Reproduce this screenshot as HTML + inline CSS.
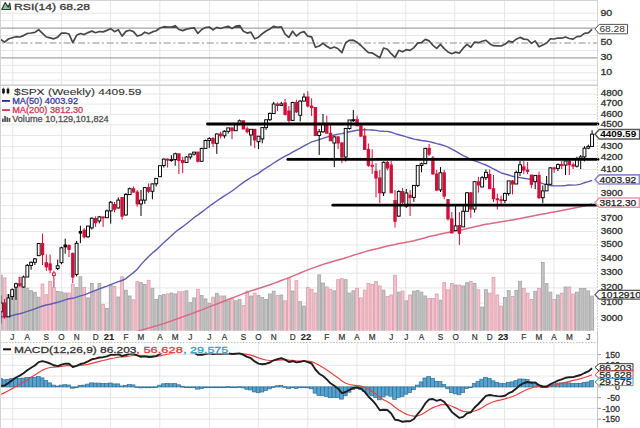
<!DOCTYPE html><html><head><meta charset="utf-8"><style>html,body{margin:0;padding:0;background:#fff;width:640px;height:428px;overflow:hidden}</style></head><body><svg width="640" height="428" viewBox="0 0 640 428" style="display:block;font-family:'Liberation Sans', sans-serif">
<defs><clipPath id="cr"><rect x="1" y="1" width="596.5" height="84"/></clipPath><clipPath id="cm"><rect x="1" y="85.5" width="596.5" height="245.3"/></clipPath><clipPath id="cd"><rect x="1" y="343" width="596.5" height="85"/></clipPath></defs>
<rect width="640" height="428" fill="#fff"/>
<line x1="1" y1="13.2" x2="597.5" y2="13.2" stroke="#e6e6e6" stroke-width="1"/>
<line x1="1" y1="20.6" x2="597.5" y2="20.6" stroke="#e6e6e6" stroke-width="1"/>
<line x1="1" y1="35.5" x2="597.5" y2="35.5" stroke="#e6e6e6" stroke-width="1"/>
<line x1="1" y1="50.5" x2="597.5" y2="50.5" stroke="#e6e6e6" stroke-width="1"/>
<line x1="1" y1="65.3" x2="597.5" y2="65.3" stroke="#e6e6e6" stroke-width="1"/>
<line x1="1" y1="72.8" x2="597.5" y2="72.8" stroke="#e6e6e6" stroke-width="1"/>
<line x1="1" y1="80.2" x2="597.5" y2="80.2" stroke="#e6e6e6" stroke-width="1"/>
<line x1="12.8" y1="1" x2="12.8" y2="85" stroke="#e6e6e6" stroke-width="1"/>
<line x1="61.4" y1="1" x2="61.4" y2="85" stroke="#e6e6e6" stroke-width="1"/>
<line x1="110.6" y1="1" x2="110.6" y2="85" stroke="#e6e6e6" stroke-width="1"/>
<line x1="159.8" y1="1" x2="159.8" y2="85" stroke="#e6e6e6" stroke-width="1"/>
<line x1="209.4" y1="1" x2="209.4" y2="85" stroke="#e6e6e6" stroke-width="1"/>
<line x1="258.6" y1="1" x2="258.6" y2="85" stroke="#e6e6e6" stroke-width="1"/>
<line x1="307.8" y1="1" x2="307.8" y2="85" stroke="#e6e6e6" stroke-width="1"/>
<line x1="357.0" y1="1" x2="357.0" y2="85" stroke="#e6e6e6" stroke-width="1"/>
<line x1="405.8" y1="1" x2="405.8" y2="85" stroke="#e6e6e6" stroke-width="1"/>
<line x1="454.8" y1="1" x2="454.8" y2="85" stroke="#e6e6e6" stroke-width="1"/>
<line x1="504.6" y1="1" x2="504.6" y2="85" stroke="#e6e6e6" stroke-width="1"/>
<line x1="553.9" y1="1" x2="553.9" y2="85" stroke="#e6e6e6" stroke-width="1"/>
<line x1="1" y1="28.1" x2="597.5" y2="28.1" stroke="#a4a4a4" stroke-width="1.4"/>
<line x1="1" y1="57.9" x2="597.5" y2="57.9" stroke="#a4a4a4" stroke-width="1.4"/>
<line x1="1" y1="43.0" x2="597.5" y2="43.0" stroke="#b4b4b4" stroke-width="1.3" stroke-dasharray="7,2.6,2,2.7" stroke-dashoffset="8.8"/>
<clipPath id="c70"><rect x="1" y="1" width="596.5" height="27.10"/></clipPath><clipPath id="c30"><rect x="1" y="57.90" width="596.5" height="27.10"/></clipPath>
<polygon clip-path="url(#c70)" points="0.8,28.10 0.8,39.5 4.6,42.1 8.4,39.0 12.2,37.7 16.0,36.7 19.8,37.0 23.5,35.6 27.3,33.5 31.1,33.0 34.9,32.4 38.7,29.7 42.5,33.4 46.3,37.0 50.1,37.9 53.9,38.8 57.7,37.1 61.5,33.2 65.2,33.0 69.0,34.0 72.8,42.6 76.6,35.3 80.4,33.5 84.2,34.6 88.0,32.6 91.8,31.1 95.6,32.7 99.3,31.5 103.1,31.9 106.9,30.4 110.7,28.7 114.5,31.7 118.3,29.7 122.1,36.1 125.9,31.4 129.7,30.2 133.5,31.6 137.2,36.0 141.0,35.1 144.8,32.2 148.6,33.7 152.4,31.9 156.2,30.7 160.0,28.0 163.8,26.7 167.6,27.0 171.4,27.0 175.2,25.7 178.9,29.5 182.7,30.6 186.5,29.1 190.3,28.3 194.1,27.8 197.9,33.4 201.7,29.5 205.5,27.5 209.3,27.0 213.0,29.9 216.8,27.4 220.6,28.5 224.4,27.3 228.2,26.3 232.0,28.4 235.8,26.2 239.6,25.5 243.4,31.3 247.2,33.1 250.9,32.2 254.7,38.8 258.5,37.2 262.3,33.7 266.1,31.0 269.9,29.0 273.7,26.3 277.5,27.3 281.3,26.9 285.1,34.1 288.9,37.4 292.6,31.2 296.4,36.1 300.2,32.8 304.0,31.6 307.8,36.2 311.6,36.9 315.4,47.3 319.2,46.0 323.0,43.4 326.8,46.2 330.5,48.5 334.3,47.0 338.1,48.8 341.9,52.6 345.7,42.7 349.5,40.3 353.3,40.2 357.1,42.3 360.9,45.5 364.7,49.1 368.4,52.6 372.2,52.9 376.0,55.2 379.8,57.7 383.6,48.0 387.4,49.2 391.2,53.7 395.0,57.5 398.8,50.3 402.6,51.8 406.3,49.7 410.1,50.4 413.9,47.6 417.7,43.1 421.5,42.7 425.3,39.4 429.1,40.9 432.9,45.3 436.7,48.3 440.5,44.4 444.2,48.6 448.0,51.9 451.8,53.7 455.6,52.1 459.4,53.1 463.2,48.2 467.0,44.4 470.8,47.2 474.6,42.1 478.4,42.7 482.1,41.3 485.9,40.3 489.7,43.7 493.5,45.7 497.3,45.8 501.1,46.0 504.9,44.3 508.7,41.2 512.5,42.1 516.2,39.2 520.0,37.4 523.8,39.1 527.6,39.5 531.4,43.4 535.2,40.9 539.0,46.7 542.8,44.9 546.6,43.0 550.4,38.9 554.1,39.0 557.9,38.0 561.7,38.2 565.5,37.0 569.3,38.5 573.1,39.1 576.9,36.6 580.7,36.1 584.5,33.4 588.3,32.8 592.1,29.4 592.1,28.10" fill="#505050"/>
<polygon clip-path="url(#c30)" points="0.8,57.90 0.8,39.5 4.6,42.1 8.4,39.0 12.2,37.7 16.0,36.7 19.8,37.0 23.5,35.6 27.3,33.5 31.1,33.0 34.9,32.4 38.7,29.7 42.5,33.4 46.3,37.0 50.1,37.9 53.9,38.8 57.7,37.1 61.5,33.2 65.2,33.0 69.0,34.0 72.8,42.6 76.6,35.3 80.4,33.5 84.2,34.6 88.0,32.6 91.8,31.1 95.6,32.7 99.3,31.5 103.1,31.9 106.9,30.4 110.7,28.7 114.5,31.7 118.3,29.7 122.1,36.1 125.9,31.4 129.7,30.2 133.5,31.6 137.2,36.0 141.0,35.1 144.8,32.2 148.6,33.7 152.4,31.9 156.2,30.7 160.0,28.0 163.8,26.7 167.6,27.0 171.4,27.0 175.2,25.7 178.9,29.5 182.7,30.6 186.5,29.1 190.3,28.3 194.1,27.8 197.9,33.4 201.7,29.5 205.5,27.5 209.3,27.0 213.0,29.9 216.8,27.4 220.6,28.5 224.4,27.3 228.2,26.3 232.0,28.4 235.8,26.2 239.6,25.5 243.4,31.3 247.2,33.1 250.9,32.2 254.7,38.8 258.5,37.2 262.3,33.7 266.1,31.0 269.9,29.0 273.7,26.3 277.5,27.3 281.3,26.9 285.1,34.1 288.9,37.4 292.6,31.2 296.4,36.1 300.2,32.8 304.0,31.6 307.8,36.2 311.6,36.9 315.4,47.3 319.2,46.0 323.0,43.4 326.8,46.2 330.5,48.5 334.3,47.0 338.1,48.8 341.9,52.6 345.7,42.7 349.5,40.3 353.3,40.2 357.1,42.3 360.9,45.5 364.7,49.1 368.4,52.6 372.2,52.9 376.0,55.2 379.8,57.7 383.6,48.0 387.4,49.2 391.2,53.7 395.0,57.5 398.8,50.3 402.6,51.8 406.3,49.7 410.1,50.4 413.9,47.6 417.7,43.1 421.5,42.7 425.3,39.4 429.1,40.9 432.9,45.3 436.7,48.3 440.5,44.4 444.2,48.6 448.0,51.9 451.8,53.7 455.6,52.1 459.4,53.1 463.2,48.2 467.0,44.4 470.8,47.2 474.6,42.1 478.4,42.7 482.1,41.3 485.9,40.3 489.7,43.7 493.5,45.7 497.3,45.8 501.1,46.0 504.9,44.3 508.7,41.2 512.5,42.1 516.2,39.2 520.0,37.4 523.8,39.1 527.6,39.5 531.4,43.4 535.2,40.9 539.0,46.7 542.8,44.9 546.6,43.0 550.4,38.9 554.1,39.0 557.9,38.0 561.7,38.2 565.5,37.0 569.3,38.5 573.1,39.1 576.9,36.6 580.7,36.1 584.5,33.4 588.3,32.8 592.1,29.4 592.1,57.90" fill="#505050"/>
<polyline clip-path="url(#cr)" points="0.8,39.5 4.6,42.1 8.4,39.0 12.2,37.7 16.0,36.7 19.8,37.0 23.5,35.6 27.3,33.5 31.1,33.0 34.9,32.4 38.7,29.7 42.5,33.4 46.3,37.0 50.1,37.9 53.9,38.8 57.7,37.1 61.5,33.2 65.2,33.0 69.0,34.0 72.8,42.6 76.6,35.3 80.4,33.5 84.2,34.6 88.0,32.6 91.8,31.1 95.6,32.7 99.3,31.5 103.1,31.9 106.9,30.4 110.7,28.7 114.5,31.7 118.3,29.7 122.1,36.1 125.9,31.4 129.7,30.2 133.5,31.6 137.2,36.0 141.0,35.1 144.8,32.2 148.6,33.7 152.4,31.9 156.2,30.7 160.0,28.0 163.8,26.7 167.6,27.0 171.4,27.0 175.2,25.7 178.9,29.5 182.7,30.6 186.5,29.1 190.3,28.3 194.1,27.8 197.9,33.4 201.7,29.5 205.5,27.5 209.3,27.0 213.0,29.9 216.8,27.4 220.6,28.5 224.4,27.3 228.2,26.3 232.0,28.4 235.8,26.2 239.6,25.5 243.4,31.3 247.2,33.1 250.9,32.2 254.7,38.8 258.5,37.2 262.3,33.7 266.1,31.0 269.9,29.0 273.7,26.3 277.5,27.3 281.3,26.9 285.1,34.1 288.9,37.4 292.6,31.2 296.4,36.1 300.2,32.8 304.0,31.6 307.8,36.2 311.6,36.9 315.4,47.3 319.2,46.0 323.0,43.4 326.8,46.2 330.5,48.5 334.3,47.0 338.1,48.8 341.9,52.6 345.7,42.7 349.5,40.3 353.3,40.2 357.1,42.3 360.9,45.5 364.7,49.1 368.4,52.6 372.2,52.9 376.0,55.2 379.8,57.7 383.6,48.0 387.4,49.2 391.2,53.7 395.0,57.5 398.8,50.3 402.6,51.8 406.3,49.7 410.1,50.4 413.9,47.6 417.7,43.1 421.5,42.7 425.3,39.4 429.1,40.9 432.9,45.3 436.7,48.3 440.5,44.4 444.2,48.6 448.0,51.9 451.8,53.7 455.6,52.1 459.4,53.1 463.2,48.2 467.0,44.4 470.8,47.2 474.6,42.1 478.4,42.7 482.1,41.3 485.9,40.3 489.7,43.7 493.5,45.7 497.3,45.8 501.1,46.0 504.9,44.3 508.7,41.2 512.5,42.1 516.2,39.2 520.0,37.4 523.8,39.1 527.6,39.5 531.4,43.4 535.2,40.9 539.0,46.7 542.8,44.9 546.6,43.0 550.4,38.9 554.1,39.0 557.9,38.0 561.7,38.2 565.5,37.0 569.3,38.5 573.1,39.1 576.9,36.6 580.7,36.1 584.5,33.4 588.3,32.8 592.1,29.4" fill="none" stroke="#484848" stroke-width="1.7" stroke-linejoin="round"/>
<rect x="0.5" y="0.5" width="597.0" height="84.7" fill="none" stroke="#d4d4d4" stroke-width="1"/>
<rect x="1" y="1" width="91" height="10.5" fill="#fff"/>
<path d="M1.8,9.5 L5.2,2.6 L8.2,7.2 L9.8,3.2 L10.6,9.5 Z" fill="#8fbf98" stroke="#2a3f2e" stroke-width="1.2" stroke-linejoin="round"/>
<text x="14" y="9.6" font-size="8.8" fill="#3a3a3a" text-anchor="start" font-weight="normal" textLength="76" lengthAdjust="spacingAndGlyphs" stroke="#3a3a3a" stroke-width="0.3">RSI(14) 68.28</text>
<text x="600.4" y="16.3" font-size="8.6" fill="#333" text-anchor="start" font-weight="normal" textLength="11.8" lengthAdjust="spacingAndGlyphs" stroke="#333" stroke-width="0.3">90</text>
<text x="600.4" y="45.4" font-size="8.6" fill="#333" text-anchor="start" font-weight="normal" textLength="11.8" lengthAdjust="spacingAndGlyphs" stroke="#333" stroke-width="0.3">50</text>
<text x="600.4" y="60.0" font-size="8.6" fill="#333" text-anchor="start" font-weight="normal" textLength="11.8" lengthAdjust="spacingAndGlyphs" stroke="#333" stroke-width="0.3">30</text>
<text x="600.4" y="74.5" font-size="8.6" fill="#333" text-anchor="start" font-weight="normal" textLength="11.8" lengthAdjust="spacingAndGlyphs" stroke="#333" stroke-width="0.3">10</text>
<path d="M595.0,29.10 L599.2,24.4 L627.5,24.4 L627.5,33.8 L599.2,33.8 Z" fill="#fff" stroke="#555" stroke-width="1.0"/><text x="599.4" y="32.3" font-size="8.6" fill="#333" text-anchor="start" font-weight="normal" textLength="25.4" lengthAdjust="spacingAndGlyphs">68.28</text>
<line x1="1" y1="318.7" x2="597.5" y2="318.7" stroke="#e6e6e6" stroke-width="1"/>
<line x1="1" y1="303.0" x2="597.5" y2="303.0" stroke="#e6e6e6" stroke-width="1"/>
<line x1="1" y1="287.9" x2="597.5" y2="287.9" stroke="#e6e6e6" stroke-width="1"/>
<line x1="1" y1="273.2" x2="597.5" y2="273.2" stroke="#e6e6e6" stroke-width="1"/>
<line x1="1" y1="258.9" x2="597.5" y2="258.9" stroke="#e6e6e6" stroke-width="1"/>
<line x1="1" y1="245.0" x2="597.5" y2="245.0" stroke="#e6e6e6" stroke-width="1"/>
<line x1="1" y1="231.6" x2="597.5" y2="231.6" stroke="#e6e6e6" stroke-width="1"/>
<line x1="1" y1="218.5" x2="597.5" y2="218.5" stroke="#e6e6e6" stroke-width="1"/>
<line x1="1" y1="205.7" x2="597.5" y2="205.7" stroke="#e6e6e6" stroke-width="1"/>
<line x1="1" y1="193.3" x2="597.5" y2="193.3" stroke="#e6e6e6" stroke-width="1"/>
<line x1="1" y1="181.2" x2="597.5" y2="181.2" stroke="#e6e6e6" stroke-width="1"/>
<line x1="1" y1="169.4" x2="597.5" y2="169.4" stroke="#e6e6e6" stroke-width="1"/>
<line x1="1" y1="157.9" x2="597.5" y2="157.9" stroke="#e6e6e6" stroke-width="1"/>
<line x1="1" y1="146.6" x2="597.5" y2="146.6" stroke="#e6e6e6" stroke-width="1"/>
<line x1="1" y1="135.6" x2="597.5" y2="135.6" stroke="#e6e6e6" stroke-width="1"/>
<line x1="1" y1="124.9" x2="597.5" y2="124.9" stroke="#e6e6e6" stroke-width="1"/>
<line x1="1" y1="114.4" x2="597.5" y2="114.4" stroke="#e6e6e6" stroke-width="1"/>
<line x1="1" y1="104.1" x2="597.5" y2="104.1" stroke="#e6e6e6" stroke-width="1"/>
<line x1="1" y1="94.1" x2="597.5" y2="94.1" stroke="#e6e6e6" stroke-width="1"/>
<line x1="12.8" y1="85.2" x2="12.8" y2="330.8" stroke="#e6e6e6" stroke-width="1"/>
<line x1="61.4" y1="85.2" x2="61.4" y2="330.8" stroke="#e6e6e6" stroke-width="1"/>
<line x1="110.6" y1="85.2" x2="110.6" y2="330.8" stroke="#e6e6e6" stroke-width="1"/>
<line x1="159.8" y1="85.2" x2="159.8" y2="330.8" stroke="#e6e6e6" stroke-width="1"/>
<line x1="209.4" y1="85.2" x2="209.4" y2="330.8" stroke="#e6e6e6" stroke-width="1"/>
<line x1="258.6" y1="85.2" x2="258.6" y2="330.8" stroke="#e6e6e6" stroke-width="1"/>
<line x1="307.8" y1="85.2" x2="307.8" y2="330.8" stroke="#e6e6e6" stroke-width="1"/>
<line x1="357.0" y1="85.2" x2="357.0" y2="330.8" stroke="#e6e6e6" stroke-width="1"/>
<line x1="405.8" y1="85.2" x2="405.8" y2="330.8" stroke="#e6e6e6" stroke-width="1"/>
<line x1="454.8" y1="85.2" x2="454.8" y2="330.8" stroke="#e6e6e6" stroke-width="1"/>
<line x1="504.6" y1="85.2" x2="504.6" y2="330.8" stroke="#e6e6e6" stroke-width="1"/>
<line x1="553.9" y1="85.2" x2="553.9" y2="330.8" stroke="#e6e6e6" stroke-width="1"/>
<g clip-path="url(#cm)"><rect x="-0.6" y="275.1" width="2.79" height="56.5" fill="#c4c4c4" stroke="#a8a8a8" stroke-width="0.9"/><rect x="3.2" y="277.9" width="2.79" height="53.7" fill="#f2c4ce" stroke="#e0a0b0" stroke-width="0.9"/><rect x="7.0" y="294.7" width="2.79" height="36.9" fill="#c4c4c4" stroke="#a8a8a8" stroke-width="0.9"/><rect x="10.8" y="293.0" width="2.79" height="38.6" fill="#c4c4c4" stroke="#a8a8a8" stroke-width="0.9"/><rect x="14.6" y="288.2" width="2.79" height="43.4" fill="#c4c4c4" stroke="#a8a8a8" stroke-width="0.9"/><rect x="18.4" y="277.5" width="2.79" height="54.1" fill="#f2c4ce" stroke="#e0a0b0" stroke-width="0.9"/><rect x="22.2" y="287.4" width="2.79" height="44.2" fill="#c4c4c4" stroke="#a8a8a8" stroke-width="0.9"/><rect x="25.9" y="288.2" width="2.79" height="43.4" fill="#c4c4c4" stroke="#a8a8a8" stroke-width="0.9"/><rect x="29.7" y="290.6" width="2.79" height="41.0" fill="#c4c4c4" stroke="#a8a8a8" stroke-width="0.9"/><rect x="33.5" y="292.3" width="2.79" height="39.3" fill="#c4c4c4" stroke="#a8a8a8" stroke-width="0.9"/><rect x="37.3" y="297.2" width="2.79" height="34.4" fill="#c4c4c4" stroke="#a8a8a8" stroke-width="0.9"/><rect x="41.1" y="284.1" width="2.79" height="47.5" fill="#f2c4ce" stroke="#e0a0b0" stroke-width="0.9"/><rect x="44.9" y="294.7" width="2.79" height="36.9" fill="#f2c4ce" stroke="#e0a0b0" stroke-width="0.9"/><rect x="48.7" y="281.3" width="2.79" height="50.3" fill="#f2c4ce" stroke="#e0a0b0" stroke-width="0.9"/><rect x="52.5" y="287.4" width="2.79" height="44.2" fill="#f2c4ce" stroke="#e0a0b0" stroke-width="0.9"/><rect x="56.3" y="291.5" width="2.79" height="40.1" fill="#c4c4c4" stroke="#a8a8a8" stroke-width="0.9"/><rect x="60.1" y="292.0" width="2.79" height="39.6" fill="#c4c4c4" stroke="#a8a8a8" stroke-width="0.9"/><rect x="63.8" y="293.1" width="2.79" height="38.5" fill="#c4c4c4" stroke="#a8a8a8" stroke-width="0.9"/><rect x="67.6" y="293.0" width="2.79" height="38.6" fill="#f2c4ce" stroke="#e0a0b0" stroke-width="0.9"/><rect x="71.4" y="284.1" width="2.79" height="47.5" fill="#f2c4ce" stroke="#e0a0b0" stroke-width="0.9"/><rect x="75.2" y="287.4" width="2.79" height="44.2" fill="#c4c4c4" stroke="#a8a8a8" stroke-width="0.9"/><rect x="79.0" y="276.8" width="2.79" height="54.8" fill="#c4c4c4" stroke="#a8a8a8" stroke-width="0.9"/><rect x="82.8" y="287.4" width="2.79" height="44.2" fill="#f2c4ce" stroke="#e0a0b0" stroke-width="0.9"/><rect x="86.6" y="297.9" width="2.79" height="33.7" fill="#c4c4c4" stroke="#a8a8a8" stroke-width="0.9"/><rect x="90.4" y="283.5" width="2.79" height="48.1" fill="#c4c4c4" stroke="#a8a8a8" stroke-width="0.9"/><rect x="94.2" y="290.2" width="2.79" height="41.4" fill="#f2c4ce" stroke="#e0a0b0" stroke-width="0.9"/><rect x="98.0" y="283.5" width="2.79" height="48.1" fill="#c4c4c4" stroke="#a8a8a8" stroke-width="0.9"/><rect x="101.7" y="304.6" width="2.79" height="27.0" fill="#f2c4ce" stroke="#e0a0b0" stroke-width="0.9"/><rect x="105.5" y="308.4" width="2.79" height="23.2" fill="#c4c4c4" stroke="#a8a8a8" stroke-width="0.9"/><rect x="109.3" y="285.4" width="2.79" height="46.2" fill="#c4c4c4" stroke="#a8a8a8" stroke-width="0.9"/><rect x="113.1" y="286.4" width="2.79" height="45.2" fill="#f2c4ce" stroke="#e0a0b0" stroke-width="0.9"/><rect x="116.9" y="297.0" width="2.79" height="34.6" fill="#c4c4c4" stroke="#a8a8a8" stroke-width="0.9"/><rect x="120.7" y="276.8" width="2.79" height="54.8" fill="#f2c4ce" stroke="#e0a0b0" stroke-width="0.9"/><rect x="124.5" y="290.2" width="2.79" height="41.4" fill="#c4c4c4" stroke="#a8a8a8" stroke-width="0.9"/><rect x="128.3" y="296.0" width="2.79" height="35.6" fill="#c4c4c4" stroke="#a8a8a8" stroke-width="0.9"/><rect x="132.1" y="299.8" width="2.79" height="31.8" fill="#f2c4ce" stroke="#e0a0b0" stroke-width="0.9"/><rect x="135.9" y="281.6" width="2.79" height="50.0" fill="#f2c4ce" stroke="#e0a0b0" stroke-width="0.9"/><rect x="139.6" y="282.6" width="2.79" height="49.0" fill="#c4c4c4" stroke="#a8a8a8" stroke-width="0.9"/><rect x="143.4" y="284.5" width="2.79" height="47.1" fill="#c4c4c4" stroke="#a8a8a8" stroke-width="0.9"/><rect x="147.2" y="280.3" width="2.79" height="51.3" fill="#f2c4ce" stroke="#e0a0b0" stroke-width="0.9"/><rect x="151.0" y="288.3" width="2.79" height="43.3" fill="#c4c4c4" stroke="#a8a8a8" stroke-width="0.9"/><rect x="154.8" y="299.4" width="2.79" height="32.2" fill="#c4c4c4" stroke="#a8a8a8" stroke-width="0.9"/><rect x="158.6" y="295.6" width="2.79" height="36.0" fill="#c4c4c4" stroke="#a8a8a8" stroke-width="0.9"/><rect x="162.4" y="294.6" width="2.79" height="37.0" fill="#c4c4c4" stroke="#a8a8a8" stroke-width="0.9"/><rect x="166.2" y="294.0" width="2.79" height="37.6" fill="#f2c4ce" stroke="#e0a0b0" stroke-width="0.9"/><rect x="170.0" y="293.1" width="2.79" height="38.5" fill="#c4c4c4" stroke="#a8a8a8" stroke-width="0.9"/><rect x="173.8" y="294.0" width="2.79" height="37.6" fill="#c4c4c4" stroke="#a8a8a8" stroke-width="0.9"/><rect x="177.5" y="291.8" width="2.79" height="39.8" fill="#f2c4ce" stroke="#e0a0b0" stroke-width="0.9"/><rect x="181.3" y="291.8" width="2.79" height="39.8" fill="#f2c4ce" stroke="#e0a0b0" stroke-width="0.9"/><rect x="185.1" y="290.8" width="2.79" height="40.8" fill="#c4c4c4" stroke="#a8a8a8" stroke-width="0.9"/><rect x="188.9" y="302.7" width="2.79" height="28.9" fill="#c4c4c4" stroke="#a8a8a8" stroke-width="0.9"/><rect x="192.7" y="297.9" width="2.79" height="33.7" fill="#c4c4c4" stroke="#a8a8a8" stroke-width="0.9"/><rect x="196.5" y="289.3" width="2.79" height="42.3" fill="#f2c4ce" stroke="#e0a0b0" stroke-width="0.9"/><rect x="200.3" y="295.4" width="2.79" height="36.2" fill="#c4c4c4" stroke="#a8a8a8" stroke-width="0.9"/><rect x="204.1" y="298.9" width="2.79" height="32.7" fill="#c4c4c4" stroke="#a8a8a8" stroke-width="0.9"/><rect x="207.9" y="303.3" width="2.79" height="28.3" fill="#c4c4c4" stroke="#a8a8a8" stroke-width="0.9"/><rect x="211.7" y="297.2" width="2.79" height="34.4" fill="#f2c4ce" stroke="#e0a0b0" stroke-width="0.9"/><rect x="215.4" y="293.4" width="2.79" height="38.2" fill="#c4c4c4" stroke="#a8a8a8" stroke-width="0.9"/><rect x="219.2" y="296.0" width="2.79" height="35.6" fill="#f2c4ce" stroke="#e0a0b0" stroke-width="0.9"/><rect x="223.0" y="296.0" width="2.79" height="35.6" fill="#c4c4c4" stroke="#a8a8a8" stroke-width="0.9"/><rect x="226.8" y="300.8" width="2.79" height="30.8" fill="#c4c4c4" stroke="#a8a8a8" stroke-width="0.9"/><rect x="230.6" y="298.9" width="2.79" height="32.7" fill="#f2c4ce" stroke="#e0a0b0" stroke-width="0.9"/><rect x="234.4" y="300.8" width="2.79" height="30.8" fill="#c4c4c4" stroke="#a8a8a8" stroke-width="0.9"/><rect x="238.2" y="299.4" width="2.79" height="32.2" fill="#c4c4c4" stroke="#a8a8a8" stroke-width="0.9"/><rect x="242.0" y="305.6" width="2.79" height="26.0" fill="#f2c4ce" stroke="#e0a0b0" stroke-width="0.9"/><rect x="245.8" y="291.2" width="2.79" height="40.4" fill="#f2c4ce" stroke="#e0a0b0" stroke-width="0.9"/><rect x="249.6" y="296.0" width="2.79" height="35.6" fill="#c4c4c4" stroke="#a8a8a8" stroke-width="0.9"/><rect x="253.3" y="293.1" width="2.79" height="38.5" fill="#f2c4ce" stroke="#e0a0b0" stroke-width="0.9"/><rect x="257.1" y="295.6" width="2.79" height="36.0" fill="#c4c4c4" stroke="#a8a8a8" stroke-width="0.9"/><rect x="260.9" y="297.5" width="2.79" height="34.1" fill="#c4c4c4" stroke="#a8a8a8" stroke-width="0.9"/><rect x="264.7" y="299.4" width="2.79" height="32.2" fill="#c4c4c4" stroke="#a8a8a8" stroke-width="0.9"/><rect x="268.5" y="294.0" width="2.79" height="37.6" fill="#c4c4c4" stroke="#a8a8a8" stroke-width="0.9"/><rect x="272.3" y="291.2" width="2.79" height="40.4" fill="#c4c4c4" stroke="#a8a8a8" stroke-width="0.9"/><rect x="276.1" y="295.6" width="2.79" height="36.0" fill="#f2c4ce" stroke="#e0a0b0" stroke-width="0.9"/><rect x="279.9" y="295.0" width="2.79" height="36.6" fill="#c4c4c4" stroke="#a8a8a8" stroke-width="0.9"/><rect x="283.7" y="300.8" width="2.79" height="30.8" fill="#f2c4ce" stroke="#e0a0b0" stroke-width="0.9"/><rect x="287.5" y="278.7" width="2.79" height="52.9" fill="#f2c4ce" stroke="#e0a0b0" stroke-width="0.9"/><rect x="291.2" y="291.0" width="2.79" height="40.6" fill="#c4c4c4" stroke="#a8a8a8" stroke-width="0.9"/><rect x="295.0" y="280.7" width="2.79" height="50.9" fill="#f2c4ce" stroke="#e0a0b0" stroke-width="0.9"/><rect x="298.8" y="301.7" width="2.79" height="29.9" fill="#c4c4c4" stroke="#a8a8a8" stroke-width="0.9"/><rect x="302.6" y="306.1" width="2.79" height="25.5" fill="#c4c4c4" stroke="#a8a8a8" stroke-width="0.9"/><rect x="306.4" y="287.4" width="2.79" height="44.2" fill="#f2c4ce" stroke="#e0a0b0" stroke-width="0.9"/><rect x="310.2" y="289.3" width="2.79" height="42.3" fill="#f2c4ce" stroke="#e0a0b0" stroke-width="0.9"/><rect x="314.0" y="293.1" width="2.79" height="38.5" fill="#f2c4ce" stroke="#e0a0b0" stroke-width="0.9"/><rect x="317.8" y="274.9" width="2.79" height="56.7" fill="#c4c4c4" stroke="#a8a8a8" stroke-width="0.9"/><rect x="321.6" y="283.1" width="2.79" height="48.5" fill="#c4c4c4" stroke="#a8a8a8" stroke-width="0.9"/><rect x="325.4" y="287.0" width="2.79" height="44.6" fill="#f2c4ce" stroke="#e0a0b0" stroke-width="0.9"/><rect x="329.1" y="289.3" width="2.79" height="42.3" fill="#f2c4ce" stroke="#e0a0b0" stroke-width="0.9"/><rect x="332.9" y="290.8" width="2.79" height="40.8" fill="#c4c4c4" stroke="#a8a8a8" stroke-width="0.9"/><rect x="336.7" y="279.7" width="2.79" height="51.9" fill="#f2c4ce" stroke="#e0a0b0" stroke-width="0.9"/><rect x="340.5" y="278.7" width="2.79" height="52.9" fill="#f2c4ce" stroke="#e0a0b0" stroke-width="0.9"/><rect x="344.3" y="279.7" width="2.79" height="51.9" fill="#c4c4c4" stroke="#a8a8a8" stroke-width="0.9"/><rect x="348.1" y="293.1" width="2.79" height="38.5" fill="#c4c4c4" stroke="#a8a8a8" stroke-width="0.9"/><rect x="351.9" y="290.8" width="2.79" height="40.8" fill="#c4c4c4" stroke="#a8a8a8" stroke-width="0.9"/><rect x="355.7" y="288.3" width="2.79" height="43.3" fill="#f2c4ce" stroke="#e0a0b0" stroke-width="0.9"/><rect x="359.5" y="297.9" width="2.79" height="33.7" fill="#f2c4ce" stroke="#e0a0b0" stroke-width="0.9"/><rect x="363.3" y="290.2" width="2.79" height="41.4" fill="#f2c4ce" stroke="#e0a0b0" stroke-width="0.9"/><rect x="367.0" y="283.5" width="2.79" height="48.1" fill="#f2c4ce" stroke="#e0a0b0" stroke-width="0.9"/><rect x="370.8" y="284.5" width="2.79" height="47.1" fill="#f2c4ce" stroke="#e0a0b0" stroke-width="0.9"/><rect x="374.6" y="281.6" width="2.79" height="50.0" fill="#f2c4ce" stroke="#e0a0b0" stroke-width="0.9"/><rect x="378.4" y="286.0" width="2.79" height="45.6" fill="#f2c4ce" stroke="#e0a0b0" stroke-width="0.9"/><rect x="382.2" y="290.2" width="2.79" height="41.4" fill="#c4c4c4" stroke="#a8a8a8" stroke-width="0.9"/><rect x="386.0" y="296.4" width="2.79" height="35.2" fill="#f2c4ce" stroke="#e0a0b0" stroke-width="0.9"/><rect x="389.8" y="295.0" width="2.79" height="36.6" fill="#f2c4ce" stroke="#e0a0b0" stroke-width="0.9"/><rect x="393.6" y="275.3" width="2.79" height="56.3" fill="#f2c4ce" stroke="#e0a0b0" stroke-width="0.9"/><rect x="397.4" y="292.1" width="2.79" height="39.5" fill="#c4c4c4" stroke="#a8a8a8" stroke-width="0.9"/><rect x="401.2" y="291.2" width="2.79" height="40.4" fill="#f2c4ce" stroke="#e0a0b0" stroke-width="0.9"/><rect x="404.9" y="300.8" width="2.79" height="30.8" fill="#c4c4c4" stroke="#a8a8a8" stroke-width="0.9"/><rect x="408.7" y="295.0" width="2.79" height="36.6" fill="#f2c4ce" stroke="#e0a0b0" stroke-width="0.9"/><rect x="412.5" y="291.2" width="2.79" height="40.4" fill="#c4c4c4" stroke="#a8a8a8" stroke-width="0.9"/><rect x="416.3" y="290.6" width="2.79" height="41.0" fill="#c4c4c4" stroke="#a8a8a8" stroke-width="0.9"/><rect x="420.1" y="292.1" width="2.79" height="39.5" fill="#c4c4c4" stroke="#a8a8a8" stroke-width="0.9"/><rect x="423.9" y="296.0" width="2.79" height="35.6" fill="#c4c4c4" stroke="#a8a8a8" stroke-width="0.9"/><rect x="427.7" y="298.5" width="2.79" height="33.1" fill="#f2c4ce" stroke="#e0a0b0" stroke-width="0.9"/><rect x="431.5" y="298.5" width="2.79" height="33.1" fill="#f2c4ce" stroke="#e0a0b0" stroke-width="0.9"/><rect x="435.3" y="294.0" width="2.79" height="37.6" fill="#f2c4ce" stroke="#e0a0b0" stroke-width="0.9"/><rect x="439.1" y="300.2" width="2.79" height="31.4" fill="#c4c4c4" stroke="#a8a8a8" stroke-width="0.9"/><rect x="442.8" y="282.6" width="2.79" height="49.0" fill="#f2c4ce" stroke="#e0a0b0" stroke-width="0.9"/><rect x="446.6" y="289.8" width="2.79" height="41.8" fill="#f2c4ce" stroke="#e0a0b0" stroke-width="0.9"/><rect x="450.4" y="283.5" width="2.79" height="48.1" fill="#f2c4ce" stroke="#e0a0b0" stroke-width="0.9"/><rect x="454.2" y="285.1" width="2.79" height="46.5" fill="#c4c4c4" stroke="#a8a8a8" stroke-width="0.9"/><rect x="458.0" y="285.1" width="2.79" height="46.5" fill="#f2c4ce" stroke="#e0a0b0" stroke-width="0.9"/><rect x="461.8" y="286.0" width="2.79" height="45.6" fill="#c4c4c4" stroke="#a8a8a8" stroke-width="0.9"/><rect x="465.6" y="282.6" width="2.79" height="49.0" fill="#c4c4c4" stroke="#a8a8a8" stroke-width="0.9"/><rect x="469.4" y="281.6" width="2.79" height="50.0" fill="#f2c4ce" stroke="#e0a0b0" stroke-width="0.9"/><rect x="473.2" y="283.5" width="2.79" height="48.1" fill="#c4c4c4" stroke="#a8a8a8" stroke-width="0.9"/><rect x="477.0" y="289.8" width="2.79" height="41.8" fill="#f2c4ce" stroke="#e0a0b0" stroke-width="0.9"/><rect x="480.7" y="307.1" width="2.79" height="24.5" fill="#c4c4c4" stroke="#a8a8a8" stroke-width="0.9"/><rect x="484.5" y="289.7" width="2.79" height="41.9" fill="#c4c4c4" stroke="#a8a8a8" stroke-width="0.9"/><rect x="488.3" y="293.1" width="2.79" height="38.5" fill="#f2c4ce" stroke="#e0a0b0" stroke-width="0.9"/><rect x="492.1" y="277.4" width="2.79" height="54.2" fill="#f2c4ce" stroke="#e0a0b0" stroke-width="0.9"/><rect x="495.9" y="295.0" width="2.79" height="36.6" fill="#f2c4ce" stroke="#e0a0b0" stroke-width="0.9"/><rect x="499.7" y="306.1" width="2.79" height="25.5" fill="#f2c4ce" stroke="#e0a0b0" stroke-width="0.9"/><rect x="503.5" y="297.5" width="2.79" height="34.1" fill="#c4c4c4" stroke="#a8a8a8" stroke-width="0.9"/><rect x="507.3" y="290.6" width="2.79" height="41.0" fill="#c4c4c4" stroke="#a8a8a8" stroke-width="0.9"/><rect x="511.1" y="296.4" width="2.79" height="35.2" fill="#f2c4ce" stroke="#e0a0b0" stroke-width="0.9"/><rect x="514.9" y="290.3" width="2.79" height="41.3" fill="#c4c4c4" stroke="#a8a8a8" stroke-width="0.9"/><rect x="518.6" y="281.3" width="2.79" height="50.3" fill="#c4c4c4" stroke="#a8a8a8" stroke-width="0.9"/><rect x="522.4" y="288.4" width="2.79" height="43.2" fill="#f2c4ce" stroke="#e0a0b0" stroke-width="0.9"/><rect x="526.2" y="293.2" width="2.79" height="38.4" fill="#f2c4ce" stroke="#e0a0b0" stroke-width="0.9"/><rect x="530.0" y="299.5" width="2.79" height="32.1" fill="#f2c4ce" stroke="#e0a0b0" stroke-width="0.9"/><rect x="533.8" y="291.3" width="2.79" height="40.3" fill="#c4c4c4" stroke="#a8a8a8" stroke-width="0.9"/><rect x="537.6" y="288.4" width="2.79" height="43.2" fill="#f2c4ce" stroke="#e0a0b0" stroke-width="0.9"/><rect x="541.4" y="262.5" width="2.79" height="69.1" fill="#c4c4c4" stroke="#a8a8a8" stroke-width="0.9"/><rect x="545.2" y="283.6" width="2.79" height="48.0" fill="#c4c4c4" stroke="#a8a8a8" stroke-width="0.9"/><rect x="549.0" y="292.2" width="2.79" height="39.4" fill="#c4c4c4" stroke="#a8a8a8" stroke-width="0.9"/><rect x="552.8" y="299.5" width="2.79" height="32.1" fill="#f2c4ce" stroke="#e0a0b0" stroke-width="0.9"/><rect x="556.5" y="295.1" width="2.79" height="36.5" fill="#c4c4c4" stroke="#a8a8a8" stroke-width="0.9"/><rect x="560.3" y="293.2" width="2.79" height="38.4" fill="#f2c4ce" stroke="#e0a0b0" stroke-width="0.9"/><rect x="564.1" y="287.0" width="2.79" height="44.6" fill="#c4c4c4" stroke="#a8a8a8" stroke-width="0.9"/><rect x="567.9" y="287.0" width="2.79" height="44.6" fill="#f2c4ce" stroke="#e0a0b0" stroke-width="0.9"/><rect x="571.7" y="294.1" width="2.79" height="37.5" fill="#f2c4ce" stroke="#e0a0b0" stroke-width="0.9"/><rect x="575.5" y="292.2" width="2.79" height="39.4" fill="#c4c4c4" stroke="#a8a8a8" stroke-width="0.9"/><rect x="579.3" y="288.4" width="2.79" height="43.2" fill="#c4c4c4" stroke="#a8a8a8" stroke-width="0.9"/><rect x="583.1" y="288.4" width="2.79" height="43.2" fill="#c4c4c4" stroke="#a8a8a8" stroke-width="0.9"/><rect x="586.9" y="290.9" width="2.79" height="40.7" fill="#c4c4c4" stroke="#a8a8a8" stroke-width="0.9"/><rect x="590.7" y="296.1" width="2.79" height="35.5" fill="#c4c4c4" stroke="#a8a8a8" stroke-width="0.9"/></g>
<polyline clip-path="url(#cm)" points="0.8,369.4 4.6,368.7 8.4,367.8 12.2,366.9 16.0,366.0 19.8,365.1 23.5,364.1 27.3,363.0 31.1,361.9 34.9,360.9 38.7,359.7 42.5,358.6 46.3,357.7 50.1,356.7 53.9,355.8 57.7,354.8 61.5,353.8 65.2,352.7 69.0,351.7 72.8,350.8 76.6,349.8 80.4,348.7 84.2,347.7 88.0,346.6 91.8,345.4 95.6,344.4 99.3,343.2 103.1,342.1 106.9,340.9 110.7,339.7 114.5,338.6 118.3,337.4 122.1,336.3 125.9,335.0 129.7,333.8 133.5,332.5 137.2,331.4 141.0,330.2 144.8,329.1 148.6,328.1 152.4,327.0 156.2,325.9 160.0,324.8 163.8,323.6 167.6,322.3 171.4,320.9 175.2,319.5 178.9,318.2 182.7,316.9 186.5,315.5 190.3,314.1 194.1,312.7 197.9,311.3 201.7,309.9 205.5,308.4 209.3,306.9 213.0,305.4 216.8,304.0 220.6,302.5 224.4,301.0 228.2,299.5 232.0,298.0 235.8,296.6 239.6,295.1 243.4,293.6 247.2,292.2 250.9,290.9 254.7,289.7 258.5,288.5 262.3,287.3 266.1,286.0 269.9,284.7 273.7,283.4 277.5,282.0 281.3,280.5 285.1,279.1 288.9,277.7 292.6,276.1 296.4,274.6 300.2,273.0 304.0,271.4 307.8,269.9 311.6,268.4 315.4,267.1 319.2,265.7 323.0,264.4 326.8,263.3 330.5,262.2 334.3,261.0 338.1,260.0 341.9,259.0 345.7,257.8 349.5,256.6 353.3,255.3 357.1,254.1 360.9,253.0 364.7,251.9 368.4,250.8 372.2,249.8 376.0,248.9 379.8,248.0 383.6,247.0 387.4,246.0 391.2,245.2 395.0,244.5 398.8,243.6 402.6,242.9 406.3,242.2 410.1,241.5 413.9,240.7 417.7,239.7 421.5,238.7 425.3,237.7 429.1,236.6 432.9,235.7 436.7,234.9 440.5,234.0 444.2,233.2 448.0,232.4 451.8,231.7 455.6,230.9 459.4,230.2 463.2,229.4 467.0,228.5 470.8,227.7 474.6,226.8 478.4,225.9 482.1,225.1 485.9,224.3 489.7,223.7 493.5,223.0 497.3,222.4 501.1,221.8 504.9,221.2 508.7,220.6 512.5,219.9 516.2,219.2 520.0,218.5 523.8,217.8 527.6,217.0 531.4,216.3 535.2,215.5 539.0,214.8 542.8,214.1 546.6,213.4 550.4,212.6 554.1,211.9 557.9,211.2 561.7,210.4 565.5,209.7 569.3,209.0 573.1,208.2 576.9,207.5 580.7,206.7 584.5,205.8 588.3,205.0 592.1,204.1" fill="none" stroke="#da6a82" stroke-width="1.5"/>
<polyline clip-path="url(#cm)" points="0.8,316.9 4.6,316.7 8.4,316.2 12.2,315.5 16.0,314.5 19.8,313.7 23.5,312.7 27.3,311.4 31.1,310.2 34.9,308.9 38.7,307.3 42.5,306.0 46.3,305.0 50.1,304.2 53.9,303.3 57.7,302.3 61.5,301.1 65.2,299.8 69.0,298.8 72.8,298.3 76.6,297.2 80.4,295.9 84.2,294.8 88.0,293.4 91.8,291.9 95.6,290.4 99.3,288.8 103.1,287.5 106.9,286.2 110.7,284.7 114.5,283.1 118.3,281.6 122.1,280.5 125.9,278.6 129.7,275.5 133.5,272.6 137.2,269.2 141.0,264.6 144.8,260.4 148.6,256.4 152.4,253.0 156.2,249.9 160.0,246.3 163.8,242.6 167.6,239.2 171.4,235.7 175.2,232.3 178.9,229.3 182.7,226.7 186.5,223.7 190.3,220.7 194.1,217.5 197.9,214.9 201.7,212.1 205.5,209.2 209.3,206.3 213.0,203.6 216.8,201.0 220.6,198.4 224.4,195.9 228.2,193.5 232.0,191.0 235.8,188.2 239.6,185.2 243.4,182.4 247.2,179.8 250.9,177.5 254.7,175.4 258.5,173.3 262.3,170.4 266.1,168.0 269.9,165.7 273.7,163.0 277.5,160.6 281.3,158.3 285.1,156.2 288.9,154.3 292.6,152.1 296.4,150.1 300.2,148.1 304.0,145.9 307.8,144.0 311.6,141.9 315.4,140.8 319.2,139.7 323.0,138.4 326.8,137.1 330.5,136.0 334.3,135.0 338.1,134.1 341.9,133.6 345.7,132.7 349.5,131.8 353.3,131.0 357.1,130.3 360.9,129.9 364.7,129.8 368.4,129.9 372.2,130.0 376.0,130.4 379.8,131.1 383.6,131.3 387.4,131.4 391.2,132.2 395.0,133.7 398.8,134.7 402.6,135.7 406.3,136.9 410.1,138.0 413.9,139.1 417.7,139.8 421.5,140.5 425.3,141.0 429.1,141.6 432.9,142.5 436.7,143.6 440.5,144.5 444.2,145.6 448.0,147.1 451.8,149.1 455.6,151.1 459.4,153.4 463.2,155.6 467.0,157.3 470.8,159.5 474.6,160.8 478.4,162.2 482.1,163.7 485.9,165.0 489.7,166.8 493.5,169.0 497.3,170.9 501.1,172.8 504.9,174.0 508.7,175.0 512.5,176.3 516.2,177.1 520.0,177.6 523.8,178.3 527.6,178.9 531.4,179.5 535.2,180.5 539.0,182.1 542.8,183.6 546.6,184.8 550.4,185.5 554.1,185.9 557.9,185.9 561.7,185.9 565.5,185.5 569.3,185.0 573.1,185.1 576.9,184.9 580.7,184.1 584.5,182.7 588.3,181.7 592.1,180.3" fill="none" stroke="#5c5cb0" stroke-width="1.4"/>
<g clip-path="url(#cm)"><line x1="0.8" y1="295.4" x2="0.8" y2="323.5" stroke="#000" stroke-width="1"/><rect x="-0.64" y="303.0" width="2.9" height="8.8" fill="#fff" stroke="#000" stroke-width="0.95"/><line x1="4.6" y1="299.0" x2="4.6" y2="318.8" stroke="#d0103a" stroke-width="1"/><rect x="2.9" y="302.5" width="3.4" height="14.9" fill="#d0103a"/><line x1="8.4" y1="294.0" x2="8.4" y2="317.0" stroke="#000" stroke-width="1"/><rect x="6.94" y="298.0" width="2.9" height="18.8" fill="#fff" stroke="#000" stroke-width="0.95"/><line x1="12.2" y1="288.4" x2="12.2" y2="300.0" stroke="#000" stroke-width="1"/><rect x="10.73" y="289.7" width="2.9" height="6.9" fill="#fff" stroke="#000" stroke-width="0.95"/><line x1="16.0" y1="282.6" x2="16.0" y2="300.0" stroke="#000" stroke-width="1"/><rect x="14.52" y="283.8" width="2.9" height="3.4" fill="#fff" stroke="#000" stroke-width="0.95"/><line x1="19.8" y1="276.7" x2="19.8" y2="287.2" stroke="#d0103a" stroke-width="1"/><rect x="18.1" y="283.3" width="3.4" height="2.4" fill="#d0103a"/><line x1="23.5" y1="275.6" x2="23.5" y2="287.5" stroke="#000" stroke-width="1"/><rect x="22.10" y="277.0" width="2.9" height="10.0" fill="#fff" stroke="#000" stroke-width="0.95"/><line x1="27.3" y1="264.0" x2="27.3" y2="277.0" stroke="#000" stroke-width="1"/><rect x="25.89" y="265.4" width="2.9" height="11.6" fill="#fff" stroke="#000" stroke-width="0.95"/><line x1="31.1" y1="261.5" x2="31.1" y2="269.7" stroke="#000" stroke-width="1"/><rect x="29.68" y="262.3" width="2.9" height="3.1" fill="#fff" stroke="#000" stroke-width="0.95"/><line x1="34.9" y1="258.0" x2="34.9" y2="265.0" stroke="#000" stroke-width="1"/><rect x="33.47" y="258.9" width="2.9" height="3.4" fill="#fff" stroke="#000" stroke-width="0.95"/><line x1="38.7" y1="243.0" x2="38.7" y2="256.0" stroke="#000" stroke-width="1"/><rect x="37.26" y="243.5" width="2.9" height="12.2" fill="#fff" stroke="#000" stroke-width="0.95"/><line x1="42.5" y1="233.5" x2="42.5" y2="265.0" stroke="#d0103a" stroke-width="1"/><rect x="40.8" y="243.0" width="3.4" height="12.2" fill="#d0103a"/><line x1="46.3" y1="254.5" x2="46.3" y2="270.9" stroke="#d0103a" stroke-width="1"/><rect x="44.6" y="262.2" width="3.4" height="5.2" fill="#d0103a"/><line x1="50.1" y1="254.5" x2="50.1" y2="273.2" stroke="#d0103a" stroke-width="1"/><rect x="48.4" y="263.4" width="3.4" height="7.0" fill="#d0103a"/><line x1="53.9" y1="271.0" x2="53.9" y2="287.2" stroke="#d0103a" stroke-width="1"/><rect x="52.42" y="273.0" width="2.9" height="2.6" fill="#fff" stroke="#d0103a" stroke-width="0.95"/><line x1="57.7" y1="259.6" x2="57.7" y2="270.0" stroke="#000" stroke-width="1"/><rect x="56.21" y="265.8" width="2.9" height="2.7" fill="#fff" stroke="#000" stroke-width="0.95"/><line x1="61.5" y1="246.7" x2="61.5" y2="264.3" stroke="#000" stroke-width="1"/><rect x="60.00" y="247.8" width="2.9" height="14.9" fill="#fff" stroke="#000" stroke-width="0.95"/><line x1="65.2" y1="238.6" x2="65.2" y2="253.7" stroke="#000" stroke-width="1"/><rect x="63.5" y="244.5" width="3.4" height="2.9" fill="#000"/><line x1="69.0" y1="244.4" x2="69.0" y2="257.2" stroke="#d0103a" stroke-width="1"/><rect x="67.3" y="245.0" width="3.4" height="4.9" fill="#d0103a"/><line x1="72.8" y1="252.6" x2="72.8" y2="283.0" stroke="#d0103a" stroke-width="1"/><rect x="71.1" y="252.9" width="3.4" height="24.7" fill="#d0103a"/><line x1="76.6" y1="240.9" x2="76.6" y2="276.5" stroke="#000" stroke-width="1"/><rect x="75.16" y="243.3" width="2.9" height="31.1" fill="#fff" stroke="#000" stroke-width="0.95"/><line x1="80.4" y1="225.7" x2="80.4" y2="243.2" stroke="#000" stroke-width="1"/><rect x="78.7" y="231.0" width="3.4" height="2.6" fill="#000"/><line x1="84.2" y1="228.0" x2="84.2" y2="238.6" stroke="#d0103a" stroke-width="1"/><rect x="82.5" y="229.7" width="3.4" height="7.6" fill="#d0103a"/><line x1="88.0" y1="225.7" x2="88.0" y2="238.0" stroke="#000" stroke-width="1"/><rect x="86.53" y="226.1" width="2.9" height="10.7" fill="#fff" stroke="#000" stroke-width="0.95"/><line x1="91.8" y1="217.5" x2="91.8" y2="229.5" stroke="#000" stroke-width="1"/><rect x="90.32" y="218.2" width="2.9" height="9.7" fill="#fff" stroke="#000" stroke-width="0.95"/><line x1="95.6" y1="216.4" x2="95.6" y2="226.9" stroke="#d0103a" stroke-width="1"/><rect x="93.9" y="218.0" width="3.4" height="5.3" fill="#d0103a"/><line x1="99.3" y1="215.9" x2="99.3" y2="223.4" stroke="#000" stroke-width="1"/><rect x="97.90" y="216.9" width="2.9" height="4.1" fill="#fff" stroke="#000" stroke-width="0.95"/><line x1="103.1" y1="216.9" x2="103.1" y2="226.9" stroke="#d0103a" stroke-width="1"/><rect x="101.4" y="216.4" width="3.4" height="2.0" fill="#d0103a"/><line x1="106.9" y1="209.5" x2="106.9" y2="217.7" stroke="#000" stroke-width="1"/><rect x="105.48" y="210.9" width="2.9" height="6.8" fill="#fff" stroke="#000" stroke-width="0.95"/><line x1="110.7" y1="201.0" x2="110.7" y2="223.6" stroke="#000" stroke-width="1"/><rect x="109.27" y="202.2" width="2.9" height="8.7" fill="#fff" stroke="#000" stroke-width="0.95"/><line x1="114.5" y1="202.0" x2="114.5" y2="212.3" stroke="#d0103a" stroke-width="1"/><rect x="112.8" y="204.0" width="3.4" height="5.8" fill="#d0103a"/><line x1="118.3" y1="197.4" x2="118.3" y2="208.5" stroke="#000" stroke-width="1"/><rect x="116.85" y="200.1" width="2.9" height="7.9" fill="#fff" stroke="#000" stroke-width="0.95"/><line x1="122.1" y1="197.5" x2="122.1" y2="219.8" stroke="#d0103a" stroke-width="1"/><rect x="120.4" y="197.0" width="3.4" height="19.7" fill="#d0103a"/><line x1="125.9" y1="193.0" x2="125.9" y2="215.5" stroke="#000" stroke-width="1"/><rect x="124.43" y="194.5" width="2.9" height="20.5" fill="#fff" stroke="#000" stroke-width="0.95"/><line x1="129.7" y1="187.5" x2="129.7" y2="195.0" stroke="#000" stroke-width="1"/><rect x="128.22" y="188.7" width="2.9" height="5.9" fill="#fff" stroke="#000" stroke-width="0.95"/><line x1="133.5" y1="186.5" x2="133.5" y2="192.5" stroke="#d0103a" stroke-width="1"/><rect x="131.8" y="188.2" width="3.4" height="4.4" fill="#d0103a"/><line x1="137.2" y1="190.0" x2="137.2" y2="206.7" stroke="#d0103a" stroke-width="1"/><rect x="135.6" y="191.6" width="3.4" height="12.8" fill="#d0103a"/><line x1="141.0" y1="190.0" x2="141.0" y2="216.0" stroke="#000" stroke-width="1"/><rect x="139.59" y="200.1" width="2.9" height="3.8" fill="#fff" stroke="#000" stroke-width="0.95"/><line x1="144.8" y1="187.0" x2="144.8" y2="203.9" stroke="#000" stroke-width="1"/><rect x="143.38" y="187.6" width="2.9" height="12.5" fill="#fff" stroke="#000" stroke-width="0.95"/><line x1="148.6" y1="183.4" x2="148.6" y2="193.0" stroke="#d0103a" stroke-width="1"/><rect x="146.9" y="187.1" width="3.4" height="4.7" fill="#d0103a"/><line x1="152.4" y1="183.5" x2="152.4" y2="199.3" stroke="#000" stroke-width="1"/><rect x="150.96" y="183.9" width="2.9" height="7.4" fill="#fff" stroke="#000" stroke-width="0.95"/><line x1="156.2" y1="178.0" x2="156.2" y2="186.5" stroke="#000" stroke-width="1"/><rect x="154.75" y="178.4" width="2.9" height="5.4" fill="#fff" stroke="#000" stroke-width="0.95"/><line x1="160.0" y1="165.7" x2="160.0" y2="177.0" stroke="#000" stroke-width="1"/><rect x="158.54" y="165.7" width="2.9" height="11.0" fill="#fff" stroke="#000" stroke-width="0.95"/><line x1="163.8" y1="158.5" x2="163.8" y2="167.5" stroke="#000" stroke-width="1"/><rect x="162.33" y="159.1" width="2.9" height="6.5" fill="#fff" stroke="#000" stroke-width="0.95"/><line x1="167.6" y1="158.5" x2="167.6" y2="167.5" stroke="#d0103a" stroke-width="1"/><rect x="165.9" y="158.6" width="3.4" height="2.0" fill="#d0103a"/><line x1="171.4" y1="155.2" x2="171.4" y2="161.7" stroke="#000" stroke-width="1"/><rect x="169.91" y="159.6" width="2.9" height="1.0" fill="#fff" stroke="#000" stroke-width="0.95"/><line x1="175.2" y1="152.7" x2="175.2" y2="165.8" stroke="#000" stroke-width="1"/><rect x="173.70" y="153.8" width="2.9" height="5.8" fill="#fff" stroke="#000" stroke-width="0.95"/><line x1="178.9" y1="153.5" x2="178.9" y2="174.0" stroke="#d0103a" stroke-width="1"/><rect x="177.2" y="153.3" width="3.4" height="7.7" fill="#d0103a"/><line x1="182.7" y1="156.8" x2="182.7" y2="173.2" stroke="#d0103a" stroke-width="1"/><rect x="181.0" y="160.0" width="3.4" height="3.1" fill="#d0103a"/><line x1="186.5" y1="156.0" x2="186.5" y2="162.5" stroke="#000" stroke-width="1"/><rect x="185.07" y="157.0" width="2.9" height="5.5" fill="#fff" stroke="#000" stroke-width="0.95"/><line x1="190.3" y1="153.6" x2="190.3" y2="159.5" stroke="#000" stroke-width="1"/><rect x="188.86" y="154.1" width="2.9" height="2.9" fill="#fff" stroke="#000" stroke-width="0.95"/><line x1="194.1" y1="152.0" x2="194.1" y2="155.5" stroke="#000" stroke-width="1"/><rect x="192.65" y="152.1" width="2.9" height="2.0" fill="#fff" stroke="#000" stroke-width="0.95"/><line x1="197.9" y1="152.0" x2="197.9" y2="162.5" stroke="#d0103a" stroke-width="1"/><rect x="196.2" y="151.6" width="3.4" height="10.2" fill="#d0103a"/><line x1="201.7" y1="147.8" x2="201.7" y2="162.0" stroke="#000" stroke-width="1"/><rect x="200.23" y="148.4" width="2.9" height="12.9" fill="#fff" stroke="#000" stroke-width="0.95"/><line x1="205.5" y1="139.6" x2="205.5" y2="148.5" stroke="#000" stroke-width="1"/><rect x="204.02" y="140.5" width="2.9" height="7.9" fill="#fff" stroke="#000" stroke-width="0.95"/><line x1="209.3" y1="137.2" x2="209.3" y2="147.8" stroke="#000" stroke-width="1"/><rect x="207.81" y="138.6" width="2.9" height="1.9" fill="#fff" stroke="#000" stroke-width="0.95"/><line x1="213.0" y1="137.0" x2="213.0" y2="147.0" stroke="#d0103a" stroke-width="1"/><rect x="211.3" y="138.1" width="3.4" height="5.7" fill="#d0103a"/><line x1="216.8" y1="133.5" x2="216.8" y2="153.9" stroke="#000" stroke-width="1"/><rect x="215.39" y="134.0" width="2.9" height="9.3" fill="#fff" stroke="#000" stroke-width="0.95"/><line x1="220.6" y1="131.8" x2="220.6" y2="138.4" stroke="#d0103a" stroke-width="1"/><rect x="218.9" y="133.5" width="3.4" height="2.8" fill="#d0103a"/><line x1="224.4" y1="130.2" x2="224.4" y2="138.4" stroke="#000" stroke-width="1"/><rect x="222.97" y="131.3" width="2.9" height="4.5" fill="#fff" stroke="#000" stroke-width="0.95"/><line x1="228.2" y1="127.9" x2="228.2" y2="133.5" stroke="#000" stroke-width="1"/><rect x="226.76" y="127.9" width="2.9" height="3.4" fill="#fff" stroke="#000" stroke-width="0.95"/><line x1="232.0" y1="127.9" x2="232.0" y2="139.2" stroke="#d0103a" stroke-width="1"/><rect x="230.3" y="127.4" width="3.4" height="3.8" fill="#d0103a"/><line x1="235.8" y1="123.5" x2="235.8" y2="131.0" stroke="#000" stroke-width="1"/><rect x="234.34" y="123.5" width="2.9" height="7.2" fill="#fff" stroke="#000" stroke-width="0.95"/><line x1="239.6" y1="119.5" x2="239.6" y2="125.0" stroke="#000" stroke-width="1"/><rect x="238.13" y="120.8" width="2.9" height="2.8" fill="#fff" stroke="#000" stroke-width="0.95"/><line x1="243.4" y1="120.4" x2="243.4" y2="128.9" stroke="#d0103a" stroke-width="1"/><rect x="241.7" y="120.3" width="3.4" height="9.2" fill="#d0103a"/><line x1="247.2" y1="126.5" x2="247.2" y2="133.5" stroke="#d0103a" stroke-width="1"/><rect x="245.5" y="128.4" width="3.4" height="3.8" fill="#d0103a"/><line x1="250.9" y1="129.0" x2="250.9" y2="145.7" stroke="#000" stroke-width="1"/><rect x="249.50" y="129.3" width="2.9" height="5.7" fill="#fff" stroke="#000" stroke-width="0.95"/><line x1="254.7" y1="129.3" x2="254.7" y2="148.2" stroke="#d0103a" stroke-width="1"/><rect x="253.0" y="128.8" width="3.4" height="11.7" fill="#d0103a"/><line x1="258.5" y1="136.0" x2="258.5" y2="149.0" stroke="#000" stroke-width="1"/><rect x="257.08" y="136.2" width="2.9" height="5.5" fill="#fff" stroke="#000" stroke-width="0.95"/><line x1="262.3" y1="127.5" x2="262.3" y2="143.3" stroke="#000" stroke-width="1"/><rect x="260.87" y="127.6" width="2.9" height="11.3" fill="#fff" stroke="#000" stroke-width="0.95"/><line x1="266.1" y1="119.8" x2="266.1" y2="129.9" stroke="#000" stroke-width="1"/><rect x="264.66" y="119.8" width="2.9" height="7.8" fill="#fff" stroke="#000" stroke-width="0.95"/><line x1="269.9" y1="112.5" x2="269.9" y2="121.0" stroke="#000" stroke-width="1"/><rect x="268.45" y="113.4" width="2.9" height="6.3" fill="#fff" stroke="#000" stroke-width="0.95"/><line x1="273.7" y1="101.8" x2="273.7" y2="113.5" stroke="#000" stroke-width="1"/><rect x="272.24" y="104.0" width="2.9" height="9.5" fill="#fff" stroke="#000" stroke-width="0.95"/><line x1="277.5" y1="102.5" x2="277.5" y2="111.0" stroke="#d0103a" stroke-width="1"/><rect x="275.8" y="103.5" width="3.4" height="2.5" fill="#d0103a"/><line x1="281.3" y1="101.8" x2="281.3" y2="106.0" stroke="#000" stroke-width="1"/><rect x="279.82" y="103.9" width="2.9" height="1.5" fill="#fff" stroke="#000" stroke-width="0.95"/><line x1="285.1" y1="99.0" x2="285.1" y2="115.2" stroke="#d0103a" stroke-width="1"/><rect x="283.4" y="102.5" width="3.4" height="12.6" fill="#d0103a"/><line x1="288.9" y1="106.0" x2="288.9" y2="122.9" stroke="#d0103a" stroke-width="1"/><rect x="287.2" y="110.5" width="3.4" height="10.4" fill="#d0103a"/><line x1="292.6" y1="101.8" x2="292.6" y2="121.0" stroke="#000" stroke-width="1"/><rect x="291.19" y="102.5" width="2.9" height="17.9" fill="#fff" stroke="#000" stroke-width="0.95"/><line x1="296.4" y1="99.7" x2="296.4" y2="113.0" stroke="#d0103a" stroke-width="1"/><rect x="294.7" y="102.0" width="3.4" height="10.4" fill="#d0103a"/><line x1="300.2" y1="100.0" x2="300.2" y2="121.5" stroke="#000" stroke-width="1"/><rect x="298.77" y="101.1" width="2.9" height="14.2" fill="#fff" stroke="#000" stroke-width="0.95"/><line x1="304.0" y1="93.4" x2="304.0" y2="101.1" stroke="#000" stroke-width="1"/><rect x="302.56" y="97.0" width="2.9" height="4.1" fill="#fff" stroke="#000" stroke-width="0.95"/><line x1="307.8" y1="91.3" x2="307.8" y2="107.4" stroke="#d0103a" stroke-width="1"/><rect x="306.1" y="96.5" width="3.4" height="10.0" fill="#d0103a"/><line x1="311.6" y1="98.3" x2="311.6" y2="115.9" stroke="#d0103a" stroke-width="1"/><rect x="309.9" y="105.6" width="3.4" height="2.5" fill="#d0103a"/><line x1="315.4" y1="107.5" x2="315.4" y2="136.2" stroke="#d0103a" stroke-width="1"/><rect x="313.7" y="107.0" width="3.4" height="29.0" fill="#d0103a"/><line x1="319.2" y1="129.0" x2="319.2" y2="154.9" stroke="#000" stroke-width="1"/><rect x="317.72" y="131.8" width="2.9" height="3.7" fill="#fff" stroke="#000" stroke-width="0.95"/><line x1="323.0" y1="114.0" x2="323.0" y2="132.8" stroke="#000" stroke-width="1"/><rect x="321.51" y="124.4" width="2.9" height="7.4" fill="#fff" stroke="#000" stroke-width="0.95"/><line x1="326.8" y1="115.6" x2="326.8" y2="133.5" stroke="#d0103a" stroke-width="1"/><rect x="325.1" y="123.9" width="3.4" height="9.8" fill="#d0103a"/><line x1="330.5" y1="124.6" x2="330.5" y2="140.8" stroke="#d0103a" stroke-width="1"/><rect x="328.8" y="132.7" width="3.4" height="8.6" fill="#d0103a"/><line x1="334.3" y1="136.0" x2="334.3" y2="167.2" stroke="#000" stroke-width="1"/><rect x="332.88" y="136.9" width="2.9" height="6.1" fill="#fff" stroke="#000" stroke-width="0.95"/><line x1="338.1" y1="136.1" x2="338.1" y2="149.2" stroke="#d0103a" stroke-width="1"/><rect x="336.4" y="136.4" width="3.4" height="7.1" fill="#d0103a"/><line x1="341.9" y1="142.0" x2="341.9" y2="163.1" stroke="#d0103a" stroke-width="1"/><rect x="340.2" y="142.5" width="3.4" height="15.0" fill="#d0103a"/><line x1="345.7" y1="128.4" x2="345.7" y2="161.5" stroke="#000" stroke-width="1"/><rect x="344.25" y="128.4" width="2.9" height="28.6" fill="#fff" stroke="#000" stroke-width="0.95"/><line x1="349.5" y1="120.0" x2="349.5" y2="129.5" stroke="#000" stroke-width="1"/><rect x="348.04" y="120.0" width="2.9" height="8.5" fill="#fff" stroke="#000" stroke-width="0.95"/><line x1="353.3" y1="109.9" x2="353.3" y2="122.0" stroke="#000" stroke-width="1"/><rect x="351.83" y="119.7" width="2.9" height="1.0" fill="#fff" stroke="#000" stroke-width="0.95"/><line x1="357.1" y1="115.6" x2="357.1" y2="125.8" stroke="#d0103a" stroke-width="1"/><rect x="355.4" y="119.2" width="3.4" height="7.1" fill="#d0103a"/><line x1="360.9" y1="125.8" x2="360.9" y2="137.0" stroke="#d0103a" stroke-width="1"/><rect x="359.2" y="125.3" width="3.4" height="11.3" fill="#d0103a"/><line x1="364.7" y1="127.9" x2="364.7" y2="149.5" stroke="#d0103a" stroke-width="1"/><rect x="363.0" y="135.6" width="3.4" height="14.3" fill="#d0103a"/><line x1="368.4" y1="143.5" x2="368.4" y2="166.9" stroke="#d0103a" stroke-width="1"/><rect x="366.7" y="148.9" width="3.4" height="16.9" fill="#d0103a"/><line x1="372.2" y1="149.3" x2="372.2" y2="173.9" stroke="#d0103a" stroke-width="1"/><rect x="370.5" y="164.8" width="3.4" height="2.0" fill="#d0103a"/><line x1="376.0" y1="163.0" x2="376.0" y2="197.2" stroke="#d0103a" stroke-width="1"/><rect x="374.3" y="170.8" width="3.4" height="7.7" fill="#d0103a"/><line x1="379.8" y1="170.0" x2="379.8" y2="203.0" stroke="#d0103a" stroke-width="1"/><rect x="378.1" y="177.5" width="3.4" height="15.8" fill="#d0103a"/><line x1="383.6" y1="161.5" x2="383.6" y2="196.0" stroke="#000" stroke-width="1"/><rect x="382.15" y="162.3" width="2.9" height="30.5" fill="#fff" stroke="#000" stroke-width="0.95"/><line x1="387.4" y1="161.0" x2="387.4" y2="170.4" stroke="#d0103a" stroke-width="1"/><rect x="385.7" y="161.8" width="3.4" height="6.7" fill="#d0103a"/><line x1="391.2" y1="161.0" x2="391.2" y2="193.0" stroke="#d0103a" stroke-width="1"/><rect x="389.5" y="164.5" width="3.4" height="28.8" fill="#d0103a"/><line x1="395.0" y1="190.0" x2="395.0" y2="227.6" stroke="#d0103a" stroke-width="1"/><rect x="393.3" y="200.0" width="3.4" height="21.8" fill="#d0103a"/><line x1="398.8" y1="190.2" x2="398.8" y2="217.0" stroke="#000" stroke-width="1"/><rect x="397.31" y="191.5" width="2.9" height="24.6" fill="#fff" stroke="#000" stroke-width="0.95"/><line x1="402.6" y1="187.9" x2="402.6" y2="204.0" stroke="#d0103a" stroke-width="1"/><rect x="400.9" y="191.0" width="3.4" height="11.7" fill="#d0103a"/><line x1="406.3" y1="189.0" x2="406.3" y2="207.8" stroke="#000" stroke-width="1"/><rect x="404.89" y="193.0" width="2.9" height="13.2" fill="#fff" stroke="#000" stroke-width="0.95"/><line x1="410.1" y1="190.0" x2="410.1" y2="216.0" stroke="#d0103a" stroke-width="1"/><rect x="408.4" y="194.7" width="3.4" height="3.2" fill="#d0103a"/><line x1="413.9" y1="185.0" x2="413.9" y2="201.9" stroke="#000" stroke-width="1"/><rect x="412.47" y="185.4" width="2.9" height="12.0" fill="#fff" stroke="#000" stroke-width="0.95"/><line x1="417.7" y1="165.0" x2="417.7" y2="187.0" stroke="#000" stroke-width="1"/><rect x="416.26" y="165.5" width="2.9" height="19.9" fill="#fff" stroke="#000" stroke-width="0.95"/><line x1="421.5" y1="162.5" x2="421.5" y2="172.3" stroke="#000" stroke-width="1"/><rect x="420.05" y="163.8" width="2.9" height="1.7" fill="#fff" stroke="#000" stroke-width="0.95"/><line x1="425.3" y1="147.9" x2="425.3" y2="164.0" stroke="#000" stroke-width="1"/><rect x="423.84" y="148.4" width="2.9" height="15.3" fill="#fff" stroke="#000" stroke-width="0.95"/><line x1="429.1" y1="144.0" x2="429.1" y2="156.0" stroke="#d0103a" stroke-width="1"/><rect x="427.4" y="147.9" width="3.4" height="6.8" fill="#d0103a"/><line x1="432.9" y1="156.0" x2="432.9" y2="174.5" stroke="#d0103a" stroke-width="1"/><rect x="431.2" y="157.5" width="3.4" height="17.0" fill="#d0103a"/><line x1="436.7" y1="170.0" x2="436.7" y2="191.0" stroke="#d0103a" stroke-width="1"/><rect x="435.0" y="173.5" width="3.4" height="17.0" fill="#d0103a"/><line x1="440.5" y1="167.1" x2="440.5" y2="192.0" stroke="#000" stroke-width="1"/><rect x="439.00" y="172.8" width="2.9" height="17.1" fill="#fff" stroke="#000" stroke-width="0.95"/><line x1="444.2" y1="170.0" x2="444.2" y2="199.3" stroke="#d0103a" stroke-width="1"/><rect x="442.5" y="172.3" width="3.4" height="24.4" fill="#d0103a"/><line x1="448.0" y1="199.6" x2="448.0" y2="220.5" stroke="#d0103a" stroke-width="1"/><rect x="446.3" y="199.1" width="3.4" height="20.3" fill="#d0103a"/><line x1="451.8" y1="212.0" x2="451.8" y2="233.1" stroke="#d0103a" stroke-width="1"/><rect x="450.1" y="218.4" width="3.4" height="15.1" fill="#d0103a"/><line x1="455.6" y1="206.0" x2="455.6" y2="231.0" stroke="#000" stroke-width="1"/><rect x="454.16" y="225.9" width="2.9" height="4.7" fill="#fff" stroke="#000" stroke-width="0.95"/><line x1="459.4" y1="212.1" x2="459.4" y2="245.0" stroke="#d0103a" stroke-width="1"/><rect x="457.7" y="225.0" width="3.4" height="8.9" fill="#d0103a"/><line x1="463.2" y1="204.0" x2="463.2" y2="226.9" stroke="#000" stroke-width="1"/><rect x="461.74" y="211.3" width="2.9" height="15.6" fill="#fff" stroke="#000" stroke-width="0.95"/><line x1="467.0" y1="192.0" x2="467.0" y2="211.3" stroke="#000" stroke-width="1"/><rect x="465.53" y="192.8" width="2.9" height="18.5" fill="#fff" stroke="#000" stroke-width="0.95"/><line x1="470.8" y1="192.0" x2="470.8" y2="217.9" stroke="#d0103a" stroke-width="1"/><rect x="469.1" y="192.3" width="3.4" height="17.3" fill="#d0103a"/><line x1="474.6" y1="181.5" x2="474.6" y2="212.6" stroke="#000" stroke-width="1"/><rect x="473.11" y="181.7" width="2.9" height="27.4" fill="#fff" stroke="#000" stroke-width="0.95"/><line x1="478.4" y1="176.8" x2="478.4" y2="192.6" stroke="#d0103a" stroke-width="1"/><rect x="476.7" y="181.2" width="3.4" height="4.3" fill="#d0103a"/><line x1="482.1" y1="176.0" x2="482.1" y2="187.0" stroke="#000" stroke-width="1"/><rect x="480.69" y="177.7" width="2.9" height="9.3" fill="#fff" stroke="#000" stroke-width="0.95"/><line x1="485.9" y1="169.5" x2="485.9" y2="180.0" stroke="#000" stroke-width="1"/><rect x="484.48" y="172.3" width="2.9" height="5.4" fill="#fff" stroke="#000" stroke-width="0.95"/><line x1="489.7" y1="169.5" x2="489.7" y2="189.0" stroke="#d0103a" stroke-width="1"/><rect x="488.0" y="174.1" width="3.4" height="15.1" fill="#d0103a"/><line x1="493.5" y1="175.0" x2="493.5" y2="202.1" stroke="#d0103a" stroke-width="1"/><rect x="491.8" y="188.2" width="3.4" height="11.1" fill="#d0103a"/><line x1="497.3" y1="193.7" x2="497.3" y2="209.5" stroke="#d0103a" stroke-width="1"/><rect x="495.6" y="198.3" width="3.4" height="2.0" fill="#d0103a"/><line x1="501.1" y1="195.8" x2="501.1" y2="205.3" stroke="#d0103a" stroke-width="1"/><rect x="499.4" y="199.2" width="3.4" height="2.0" fill="#d0103a"/><line x1="504.9" y1="192.5" x2="504.9" y2="203.2" stroke="#000" stroke-width="1"/><rect x="503.43" y="193.5" width="2.9" height="6.9" fill="#fff" stroke="#000" stroke-width="0.95"/><line x1="508.7" y1="180.9" x2="508.7" y2="195.8" stroke="#000" stroke-width="1"/><rect x="507.22" y="180.9" width="2.9" height="12.6" fill="#fff" stroke="#000" stroke-width="0.95"/><line x1="512.5" y1="180.0" x2="512.5" y2="194.4" stroke="#d0103a" stroke-width="1"/><rect x="510.8" y="180.4" width="3.4" height="4.2" fill="#d0103a"/><line x1="516.2" y1="170.5" x2="516.2" y2="184.1" stroke="#000" stroke-width="1"/><rect x="514.80" y="172.4" width="2.9" height="11.6" fill="#fff" stroke="#000" stroke-width="0.95"/><line x1="520.0" y1="161.0" x2="520.0" y2="176.0" stroke="#000" stroke-width="1"/><rect x="518.59" y="164.8" width="2.9" height="7.7" fill="#fff" stroke="#000" stroke-width="0.95"/><line x1="523.8" y1="161.0" x2="523.8" y2="174.2" stroke="#d0103a" stroke-width="1"/><rect x="522.1" y="166.3" width="3.4" height="4.3" fill="#d0103a"/><line x1="527.6" y1="162.0" x2="527.6" y2="174.2" stroke="#d0103a" stroke-width="1"/><rect x="525.9" y="169.6" width="3.4" height="2.3" fill="#d0103a"/><line x1="531.4" y1="175.0" x2="531.4" y2="188.2" stroke="#d0103a" stroke-width="1"/><rect x="529.7" y="174.5" width="3.4" height="10.4" fill="#d0103a"/><line x1="535.2" y1="175.0" x2="535.2" y2="189.1" stroke="#000" stroke-width="1"/><rect x="533.75" y="175.4" width="2.9" height="6.3" fill="#fff" stroke="#000" stroke-width="0.95"/><line x1="539.0" y1="171.6" x2="539.0" y2="199.0" stroke="#d0103a" stroke-width="1"/><rect x="537.3" y="174.9" width="3.4" height="23.3" fill="#d0103a"/><line x1="542.8" y1="185.6" x2="542.8" y2="203.2" stroke="#000" stroke-width="1"/><rect x="541.33" y="190.9" width="2.9" height="6.8" fill="#fff" stroke="#000" stroke-width="0.95"/><line x1="546.6" y1="176.0" x2="546.6" y2="190.9" stroke="#000" stroke-width="1"/><rect x="545.12" y="184.3" width="2.9" height="6.6" fill="#fff" stroke="#000" stroke-width="0.95"/><line x1="550.4" y1="167.0" x2="550.4" y2="185.0" stroke="#000" stroke-width="1"/><rect x="548.91" y="167.9" width="2.9" height="16.4" fill="#fff" stroke="#000" stroke-width="0.95"/><line x1="554.1" y1="166.7" x2="554.1" y2="172.8" stroke="#d0103a" stroke-width="1"/><rect x="552.4" y="167.4" width="3.4" height="2.0" fill="#d0103a"/><line x1="557.9" y1="163.5" x2="557.9" y2="171.0" stroke="#000" stroke-width="1"/><rect x="556.49" y="164.6" width="2.9" height="3.8" fill="#fff" stroke="#000" stroke-width="0.95"/><line x1="561.7" y1="160.6" x2="561.7" y2="169.0" stroke="#d0103a" stroke-width="1"/><rect x="560.0" y="164.1" width="3.4" height="2.0" fill="#d0103a"/><line x1="565.5" y1="161.0" x2="565.5" y2="175.0" stroke="#000" stroke-width="1"/><rect x="564.07" y="161.0" width="2.9" height="4.1" fill="#fff" stroke="#000" stroke-width="0.95"/><line x1="569.3" y1="160.6" x2="569.3" y2="175.0" stroke="#d0103a" stroke-width="1"/><rect x="567.6" y="160.5" width="3.4" height="4.8" fill="#d0103a"/><line x1="573.1" y1="162.5" x2="573.1" y2="169.0" stroke="#d0103a" stroke-width="1"/><rect x="571.4" y="164.3" width="3.4" height="2.4" fill="#d0103a"/><line x1="576.9" y1="156.8" x2="576.9" y2="167.5" stroke="#000" stroke-width="1"/><rect x="575.44" y="158.4" width="2.9" height="7.8" fill="#fff" stroke="#000" stroke-width="0.95"/><line x1="580.7" y1="155.0" x2="580.7" y2="169.0" stroke="#000" stroke-width="1"/><rect x="579.23" y="156.9" width="2.9" height="1.5" fill="#fff" stroke="#000" stroke-width="0.95"/><line x1="584.5" y1="146.2" x2="584.5" y2="161.4" stroke="#000" stroke-width="1"/><rect x="583.02" y="148.2" width="2.9" height="8.7" fill="#fff" stroke="#000" stroke-width="0.95"/><line x1="588.3" y1="144.6" x2="588.3" y2="149.2" stroke="#000" stroke-width="1"/><rect x="586.81" y="146.4" width="2.9" height="1.8" fill="#fff" stroke="#000" stroke-width="0.95"/><line x1="592.1" y1="130.2" x2="592.1" y2="146.5" stroke="#000" stroke-width="1"/><rect x="590.60" y="134.2" width="2.9" height="12.2" fill="#fff" stroke="#000" stroke-width="0.95"/></g>
<line x1="207.5" y1="124.0" x2="598" y2="124.0" stroke="#000" stroke-width="2.8" stroke-linecap="round"/>
<line x1="287.8" y1="159.4" x2="598" y2="159.4" stroke="#000" stroke-width="2.8" stroke-linecap="round"/>
<line x1="332.8" y1="205.2" x2="598" y2="205.2" stroke="#000" stroke-width="2.8" stroke-linecap="round"/>
<line x1="0.5" y1="85.2" x2="0.5" y2="330.8" stroke="#d4d4d4" stroke-width="1"/>
<line x1="0" y1="85.2" x2="597.5" y2="85.2" stroke="#c8c8c8" stroke-width="1"/>
<line x1="597.5" y1="85.2" x2="597.5" y2="330.8" stroke="#c0c0c0" stroke-width="1" stroke-dasharray="1.5,1.5"/>
<rect x="1" y="86" width="142" height="10.5" fill="#fff"/><rect x="1" y="96.5" width="78" height="9" fill="#fff"/><rect x="1" y="105.5" width="84" height="9" fill="#fff"/><rect x="1" y="114.5" width="110" height="9" fill="#fff"/>
<g fill="#111" stroke="#111" stroke-width="0.6"><line x1="3.5" y1="87.5" x2="3.5" y2="94.5"/><rect x="2.5" y="89" width="2" height="4"/><line x1="8" y1="87.5" x2="8" y2="94.5"/><rect x="7" y="89" width="2" height="4"/></g>
<text x="14" y="95.2" font-size="9.2" fill="#333" text-anchor="start" font-weight="normal" textLength="127.5" lengthAdjust="spacingAndGlyphs" stroke="#333" stroke-width="0.12">$SPX (Weekly) 4409.59</text>
<rect x="2" y="100" width="8" height="1.8" fill="#2b2b8c"/>
<text x="12.2" y="104.4" font-size="8.6" fill="#3c3ca0" text-anchor="start" font-weight="normal" textLength="65.8" lengthAdjust="spacingAndGlyphs" stroke="#3c3ca0" stroke-width="0.3">MA(50) 4003.92</text>
<rect x="2" y="109.2" width="8" height="1.8" fill="#d23a5a"/>
<text x="12.2" y="113.4" font-size="8.6" fill="#d23a5a" text-anchor="start" font-weight="normal" textLength="71" lengthAdjust="spacingAndGlyphs" stroke="#d23a5a" stroke-width="0.3">MA(200) 3812.30</text>
<g fill="#555"><rect x="2" y="118.5" width="1.7" height="3.5"/><rect x="4.2" y="116" width="1.7" height="6"/><rect x="6.4" y="117.2" width="1.7" height="4.8"/><rect x="8.6" y="118" width="1.7" height="4"/></g>
<text x="12.2" y="122.4" font-size="8.6" fill="#555" text-anchor="start" font-weight="normal" textLength="96.5" lengthAdjust="spacingAndGlyphs" stroke="#555" stroke-width="0.3">Volume 10,129,101,824</text>
<text x="600.8" y="96.3" font-size="8.4" fill="#333" text-anchor="start" font-weight="normal" textLength="22" lengthAdjust="spacingAndGlyphs" stroke="#333" stroke-width="0.3">4800</text>
<text x="600.8" y="106.3" font-size="8.4" fill="#333" text-anchor="start" font-weight="normal" textLength="22" lengthAdjust="spacingAndGlyphs" stroke="#333" stroke-width="0.3">4700</text>
<text x="600.8" y="116.6" font-size="8.4" fill="#333" text-anchor="start" font-weight="normal" textLength="22" lengthAdjust="spacingAndGlyphs" stroke="#333" stroke-width="0.3">4600</text>
<text x="600.8" y="127.1" font-size="8.4" fill="#333" text-anchor="start" font-weight="normal" textLength="22" lengthAdjust="spacingAndGlyphs" stroke="#333" stroke-width="0.3">4500</text>
<text x="600.8" y="148.8" font-size="8.4" fill="#333" text-anchor="start" font-weight="normal" textLength="22" lengthAdjust="spacingAndGlyphs" stroke="#333" stroke-width="0.3">4300</text>
<text x="600.8" y="160.1" font-size="8.4" fill="#333" text-anchor="start" font-weight="normal" textLength="22" lengthAdjust="spacingAndGlyphs" stroke="#333" stroke-width="0.3">4200</text>
<text x="600.8" y="171.6" font-size="8.4" fill="#333" text-anchor="start" font-weight="normal" textLength="22" lengthAdjust="spacingAndGlyphs" stroke="#333" stroke-width="0.3">4100</text>
<text x="600.8" y="195.5" font-size="8.4" fill="#333" text-anchor="start" font-weight="normal" textLength="22" lengthAdjust="spacingAndGlyphs" stroke="#333" stroke-width="0.3">3900</text>
<text x="600.8" y="220.7" font-size="8.4" fill="#333" text-anchor="start" font-weight="normal" textLength="22" lengthAdjust="spacingAndGlyphs" stroke="#333" stroke-width="0.3">3700</text>
<text x="600.8" y="233.8" font-size="8.4" fill="#333" text-anchor="start" font-weight="normal" textLength="22" lengthAdjust="spacingAndGlyphs" stroke="#333" stroke-width="0.3">3600</text>
<text x="600.8" y="247.2" font-size="8.4" fill="#333" text-anchor="start" font-weight="normal" textLength="22" lengthAdjust="spacingAndGlyphs" stroke="#333" stroke-width="0.3">3500</text>
<text x="600.8" y="261.1" font-size="8.4" fill="#333" text-anchor="start" font-weight="normal" textLength="22" lengthAdjust="spacingAndGlyphs" stroke="#333" stroke-width="0.3">3400</text>
<text x="600.8" y="275.4" font-size="8.4" fill="#333" text-anchor="start" font-weight="normal" textLength="22" lengthAdjust="spacingAndGlyphs" stroke="#333" stroke-width="0.3">3300</text>
<text x="600.8" y="290.1" font-size="8.4" fill="#333" text-anchor="start" font-weight="normal" textLength="22" lengthAdjust="spacingAndGlyphs" stroke="#333" stroke-width="0.3">3200</text>
<text x="600.8" y="305.2" font-size="8.4" fill="#333" text-anchor="start" font-weight="normal" textLength="22" lengthAdjust="spacingAndGlyphs" stroke="#333" stroke-width="0.3">3100</text>
<text x="600.8" y="320.9" font-size="8.4" fill="#333" text-anchor="start" font-weight="normal" textLength="22" lengthAdjust="spacingAndGlyphs" stroke="#333" stroke-width="0.3">3000</text>
<path d="M595.0,134.25 L599.2,129.4 L639.6,129.4 L639.6,139.1 L599.2,139.1 Z" fill="#fff" stroke="#555" stroke-width="1.5"/><text x="600.2" y="137.4" font-size="9.4" fill="#000" text-anchor="start" font-weight="bold" textLength="36" lengthAdjust="spacingAndGlyphs">4409.59</text>
<path d="M595.0,179.45 L599.2,174.9 L639.4,174.9 L639.4,184.0 L599.2,184.0 Z" fill="#fff" stroke="#8a8ad0" stroke-width="1.6"/><text x="599.5" y="182.6" font-size="9.2" fill="#222" text-anchor="start" font-weight="normal" textLength="36.7" lengthAdjust="spacingAndGlyphs" stroke="#222" stroke-width="0.25">4003.92</text>
<path d="M595.0,202.65 L599.2,198.0 L639.4,198.0 L639.4,207.3 L599.2,207.3 Z" fill="#fff" stroke="#e49aac" stroke-width="1.6"/><text x="599.5" y="205.8" font-size="9.2" fill="#222" text-anchor="start" font-weight="normal" textLength="36.7" lengthAdjust="spacingAndGlyphs" stroke="#222" stroke-width="0.25">3812.30</text>
<path d="M595.0,294.70 L599.2,290.3 L641,290.3 L641,299.1 L599.2,299.1 Z" fill="#fff" stroke="#555" stroke-width="1.2"/><text x="601" y="297.9" font-size="9.2" fill="#222" text-anchor="start" font-weight="normal" textLength="40" lengthAdjust="spacingAndGlyphs" stroke="#222" stroke-width="0.25">1012910</text>
<text x="12.2" y="339.5" font-size="8.2" fill="#333" text-anchor="middle" font-weight="normal" stroke="#333" stroke-width="0.2">J</text>
<text x="27.3" y="339.5" font-size="8.2" fill="#333" text-anchor="middle" font-weight="normal" stroke="#333" stroke-width="0.2">A</text>
<text x="46.3" y="339.5" font-size="8.2" fill="#333" text-anchor="middle" font-weight="normal" stroke="#333" stroke-width="0.2">S</text>
<text x="61.5" y="339.5" font-size="8.2" fill="#333" text-anchor="middle" font-weight="normal" stroke="#333" stroke-width="0.2">O</text>
<text x="76.6" y="339.5" font-size="8.2" fill="#333" text-anchor="middle" font-weight="normal" stroke="#333" stroke-width="0.2">N</text>
<text x="95.6" y="339.5" font-size="8.2" fill="#333" text-anchor="middle" font-weight="normal" stroke="#333" stroke-width="0.2">D</text>
<text x="108.9" y="339.8" font-size="9.4" fill="#222" text-anchor="middle" font-weight="bold" stroke="#222" stroke-width="0.1">21</text>
<text x="125.9" y="339.5" font-size="8.2" fill="#333" text-anchor="middle" font-weight="normal" stroke="#333" stroke-width="0.2">F</text>
<text x="141.0" y="339.5" font-size="8.2" fill="#333" text-anchor="middle" font-weight="normal" stroke="#333" stroke-width="0.2">M</text>
<text x="160.0" y="339.5" font-size="8.2" fill="#333" text-anchor="middle" font-weight="normal" stroke="#333" stroke-width="0.2">A</text>
<text x="175.2" y="339.5" font-size="8.2" fill="#333" text-anchor="middle" font-weight="normal" stroke="#333" stroke-width="0.2">M</text>
<text x="190.3" y="339.5" font-size="8.2" fill="#333" text-anchor="middle" font-weight="normal" stroke="#333" stroke-width="0.2">J</text>
<text x="209.3" y="339.5" font-size="8.2" fill="#333" text-anchor="middle" font-weight="normal" stroke="#333" stroke-width="0.2">J</text>
<text x="224.4" y="339.5" font-size="8.2" fill="#333" text-anchor="middle" font-weight="normal" stroke="#333" stroke-width="0.2">A</text>
<text x="243.4" y="339.5" font-size="8.2" fill="#333" text-anchor="middle" font-weight="normal" stroke="#333" stroke-width="0.2">S</text>
<text x="258.5" y="339.5" font-size="8.2" fill="#333" text-anchor="middle" font-weight="normal" stroke="#333" stroke-width="0.2">O</text>
<text x="273.7" y="339.5" font-size="8.2" fill="#333" text-anchor="middle" font-weight="normal" stroke="#333" stroke-width="0.2">N</text>
<text x="292.6" y="339.5" font-size="8.2" fill="#333" text-anchor="middle" font-weight="normal" stroke="#333" stroke-width="0.2">D</text>
<text x="306.0" y="339.8" font-size="9.4" fill="#222" text-anchor="middle" font-weight="bold" stroke="#222" stroke-width="0.1">22</text>
<text x="326.8" y="339.5" font-size="8.2" fill="#333" text-anchor="middle" font-weight="normal" stroke="#333" stroke-width="0.2">F</text>
<text x="341.9" y="339.5" font-size="8.2" fill="#333" text-anchor="middle" font-weight="normal" stroke="#333" stroke-width="0.2">M</text>
<text x="357.1" y="339.5" font-size="8.2" fill="#333" text-anchor="middle" font-weight="normal" stroke="#333" stroke-width="0.2">A</text>
<text x="372.2" y="339.5" font-size="8.2" fill="#333" text-anchor="middle" font-weight="normal" stroke="#333" stroke-width="0.2">M</text>
<text x="391.2" y="339.5" font-size="8.2" fill="#333" text-anchor="middle" font-weight="normal" stroke="#333" stroke-width="0.2">J</text>
<text x="406.3" y="339.5" font-size="8.2" fill="#333" text-anchor="middle" font-weight="normal" stroke="#333" stroke-width="0.2">J</text>
<text x="421.5" y="339.5" font-size="8.2" fill="#333" text-anchor="middle" font-weight="normal" stroke="#333" stroke-width="0.2">A</text>
<text x="440.5" y="339.5" font-size="8.2" fill="#333" text-anchor="middle" font-weight="normal" stroke="#333" stroke-width="0.2">S</text>
<text x="455.6" y="339.5" font-size="8.2" fill="#333" text-anchor="middle" font-weight="normal" stroke="#333" stroke-width="0.2">O</text>
<text x="474.6" y="339.5" font-size="8.2" fill="#333" text-anchor="middle" font-weight="normal" stroke="#333" stroke-width="0.2">N</text>
<text x="489.7" y="339.5" font-size="8.2" fill="#333" text-anchor="middle" font-weight="normal" stroke="#333" stroke-width="0.2">D</text>
<text x="503.1" y="339.8" font-size="9.4" fill="#222" text-anchor="middle" font-weight="bold" stroke="#222" stroke-width="0.1">23</text>
<text x="523.8" y="339.5" font-size="8.2" fill="#333" text-anchor="middle" font-weight="normal" stroke="#333" stroke-width="0.2">F</text>
<text x="539.0" y="339.5" font-size="8.2" fill="#333" text-anchor="middle" font-weight="normal" stroke="#333" stroke-width="0.2">M</text>
<text x="554.1" y="339.5" font-size="8.2" fill="#333" text-anchor="middle" font-weight="normal" stroke="#333" stroke-width="0.2">A</text>
<text x="569.3" y="339.5" font-size="8.2" fill="#333" text-anchor="middle" font-weight="normal" stroke="#333" stroke-width="0.2">M</text>
<text x="588.3" y="339.5" font-size="8.2" fill="#333" text-anchor="middle" font-weight="normal" stroke="#333" stroke-width="0.2">J</text>
<line x1="0.5" y1="330.8" x2="0.5" y2="343" stroke="#d4d4d4" stroke-width="1"/>
<line x1="597.5" y1="330.8" x2="597.5" y2="343" stroke="#c8c8c8" stroke-width="1"/>
<line x1="1" y1="354.6" x2="597.5" y2="354.6" stroke="#e6e6e6" stroke-width="1"/>
<line x1="1" y1="365.3" x2="597.5" y2="365.3" stroke="#e6e6e6" stroke-width="1"/>
<line x1="1" y1="376.1" x2="597.5" y2="376.1" stroke="#e6e6e6" stroke-width="1"/>
<line x1="1" y1="386.9" x2="597.5" y2="386.9" stroke="#e6e6e6" stroke-width="1"/>
<line x1="1" y1="397.7" x2="597.5" y2="397.7" stroke="#e6e6e6" stroke-width="1"/>
<line x1="1" y1="408.4" x2="597.5" y2="408.4" stroke="#e6e6e6" stroke-width="1"/>
<line x1="1" y1="419.2" x2="597.5" y2="419.2" stroke="#e6e6e6" stroke-width="1"/>
<line x1="12.8" y1="342.6" x2="12.8" y2="428" stroke="#e6e6e6" stroke-width="1"/>
<line x1="61.4" y1="342.6" x2="61.4" y2="428" stroke="#e6e6e6" stroke-width="1"/>
<line x1="110.6" y1="342.6" x2="110.6" y2="428" stroke="#e6e6e6" stroke-width="1"/>
<line x1="159.8" y1="342.6" x2="159.8" y2="428" stroke="#e6e6e6" stroke-width="1"/>
<line x1="209.4" y1="342.6" x2="209.4" y2="428" stroke="#e6e6e6" stroke-width="1"/>
<line x1="258.6" y1="342.6" x2="258.6" y2="428" stroke="#e6e6e6" stroke-width="1"/>
<line x1="307.8" y1="342.6" x2="307.8" y2="428" stroke="#e6e6e6" stroke-width="1"/>
<line x1="357.0" y1="342.6" x2="357.0" y2="428" stroke="#e6e6e6" stroke-width="1"/>
<line x1="405.8" y1="342.6" x2="405.8" y2="428" stroke="#e6e6e6" stroke-width="1"/>
<line x1="454.8" y1="342.6" x2="454.8" y2="428" stroke="#e6e6e6" stroke-width="1"/>
<line x1="504.6" y1="342.6" x2="504.6" y2="428" stroke="#e6e6e6" stroke-width="1"/>
<line x1="553.9" y1="342.6" x2="553.9" y2="428" stroke="#e6e6e6" stroke-width="1"/>
<line x1="0" y1="342.6" x2="597.5" y2="342.6" stroke="#bbb" stroke-width="1" stroke-dasharray="1.5,1.5"/>
<line x1="0.5" y1="342.6" x2="0.5" y2="428" stroke="#d4d4d4" stroke-width="1"/>
<line x1="597.5" y1="342.6" x2="597.5" y2="428" stroke="#c8c8c8" stroke-width="1"/>
<g clip-path="url(#cd)"><rect x="-1.49" y="378.4" width="3.79" height="8.5" fill="#55a3d0" stroke="#2f6f96" stroke-width="0.7"/><rect x="2.30" y="379.8" width="3.79" height="7.1" fill="#55a3d0" stroke="#2f6f96" stroke-width="0.7"/><rect x="6.09" y="379.3" width="3.79" height="7.6" fill="#55a3d0" stroke="#2f6f96" stroke-width="0.7"/><rect x="9.88" y="378.6" width="3.79" height="8.3" fill="#55a3d0" stroke="#2f6f96" stroke-width="0.7"/><rect x="13.67" y="378.0" width="3.79" height="8.9" fill="#55a3d0" stroke="#2f6f96" stroke-width="0.7"/><rect x="17.46" y="378.3" width="3.79" height="8.6" fill="#55a3d0" stroke="#2f6f96" stroke-width="0.7"/><rect x="21.25" y="378.1" width="3.79" height="8.8" fill="#55a3d0" stroke="#2f6f96" stroke-width="0.7"/><rect x="25.04" y="377.5" width="3.79" height="9.4" fill="#55a3d0" stroke="#2f6f96" stroke-width="0.7"/><rect x="28.83" y="377.3" width="3.79" height="9.6" fill="#55a3d0" stroke="#2f6f96" stroke-width="0.7"/><rect x="32.62" y="377.4" width="3.79" height="9.5" fill="#55a3d0" stroke="#2f6f96" stroke-width="0.7"/><rect x="36.41" y="376.6" width="3.79" height="10.3" fill="#55a3d0" stroke="#2f6f96" stroke-width="0.7"/><rect x="40.20" y="377.9" width="3.79" height="9.0" fill="#55a3d0" stroke="#2f6f96" stroke-width="0.7"/><rect x="43.99" y="380.5" width="3.79" height="6.4" fill="#55a3d0" stroke="#2f6f96" stroke-width="0.7"/><rect x="47.78" y="382.9" width="3.79" height="4.0" fill="#55a3d0" stroke="#2f6f96" stroke-width="0.7"/><rect x="51.57" y="385.1" width="3.79" height="1.8" fill="#55a3d0" stroke="#2f6f96" stroke-width="0.7"/><rect x="55.36" y="386.1" width="3.79" height="0.8" fill="#55a3d0" stroke="#2f6f96" stroke-width="0.7"/><rect x="59.15" y="385.1" width="3.79" height="1.8" fill="#55a3d0" stroke="#2f6f96" stroke-width="0.7"/><rect x="62.94" y="384.7" width="3.79" height="2.2" fill="#55a3d0" stroke="#2f6f96" stroke-width="0.7"/><rect x="66.73" y="385.0" width="3.79" height="1.9" fill="#55a3d0" stroke="#2f6f96" stroke-width="0.7"/><rect x="70.52" y="386.9" width="3.79" height="1.3" fill="#55a3d0" stroke="#2f6f96" stroke-width="0.7"/><rect x="74.31" y="386.9" width="3.79" height="0.8" fill="#55a3d0" stroke="#2f6f96" stroke-width="0.7"/><rect x="78.10" y="385.4" width="3.79" height="1.5" fill="#55a3d0" stroke="#2f6f96" stroke-width="0.7"/><rect x="81.89" y="385.1" width="3.79" height="1.8" fill="#55a3d0" stroke="#2f6f96" stroke-width="0.7"/><rect x="85.68" y="384.1" width="3.79" height="2.8" fill="#55a3d0" stroke="#2f6f96" stroke-width="0.7"/><rect x="89.47" y="382.9" width="3.79" height="4.0" fill="#55a3d0" stroke="#2f6f96" stroke-width="0.7"/><rect x="93.26" y="383.1" width="3.79" height="3.8" fill="#55a3d0" stroke="#2f6f96" stroke-width="0.7"/><rect x="97.05" y="383.1" width="3.79" height="3.8" fill="#55a3d0" stroke="#2f6f96" stroke-width="0.7"/><rect x="100.84" y="383.5" width="3.79" height="3.4" fill="#55a3d0" stroke="#2f6f96" stroke-width="0.7"/><rect x="104.63" y="383.5" width="3.79" height="3.4" fill="#55a3d0" stroke="#2f6f96" stroke-width="0.7"/><rect x="108.42" y="383.0" width="3.79" height="3.9" fill="#55a3d0" stroke="#2f6f96" stroke-width="0.7"/><rect x="112.21" y="383.9" width="3.79" height="3.0" fill="#55a3d0" stroke="#2f6f96" stroke-width="0.7"/><rect x="116.00" y="383.9" width="3.79" height="3.0" fill="#55a3d0" stroke="#2f6f96" stroke-width="0.7"/><rect x="119.79" y="386.0" width="3.79" height="0.9" fill="#55a3d0" stroke="#2f6f96" stroke-width="0.7"/><rect x="123.58" y="385.3" width="3.79" height="1.6" fill="#55a3d0" stroke="#2f6f96" stroke-width="0.7"/><rect x="127.37" y="384.6" width="3.79" height="2.3" fill="#55a3d0" stroke="#2f6f96" stroke-width="0.7"/><rect x="131.16" y="384.9" width="3.79" height="2.0" fill="#55a3d0" stroke="#2f6f96" stroke-width="0.7"/><rect x="134.95" y="386.8" width="3.79" height="0.8" fill="#55a3d0" stroke="#2f6f96" stroke-width="0.7"/><rect x="138.74" y="386.9" width="3.79" height="1.0" fill="#55a3d0" stroke="#2f6f96" stroke-width="0.7"/><rect x="142.53" y="386.9" width="3.79" height="0.8" fill="#55a3d0" stroke="#2f6f96" stroke-width="0.7"/><rect x="146.32" y="386.9" width="3.79" height="0.9" fill="#55a3d0" stroke="#2f6f96" stroke-width="0.7"/><rect x="150.11" y="386.9" width="3.79" height="0.8" fill="#55a3d0" stroke="#2f6f96" stroke-width="0.7"/><rect x="153.90" y="386.8" width="3.79" height="0.8" fill="#55a3d0" stroke="#2f6f96" stroke-width="0.7"/><rect x="157.69" y="385.2" width="3.79" height="1.7" fill="#55a3d0" stroke="#2f6f96" stroke-width="0.7"/><rect x="161.48" y="383.8" width="3.79" height="3.1" fill="#55a3d0" stroke="#2f6f96" stroke-width="0.7"/><rect x="165.27" y="383.4" width="3.79" height="3.5" fill="#55a3d0" stroke="#2f6f96" stroke-width="0.7"/><rect x="169.06" y="383.7" width="3.79" height="3.2" fill="#55a3d0" stroke="#2f6f96" stroke-width="0.7"/><rect x="172.85" y="383.6" width="3.79" height="3.3" fill="#55a3d0" stroke="#2f6f96" stroke-width="0.7"/><rect x="176.64" y="384.8" width="3.79" height="2.1" fill="#55a3d0" stroke="#2f6f96" stroke-width="0.7"/><rect x="180.43" y="386.3" width="3.79" height="0.8" fill="#55a3d0" stroke="#2f6f96" stroke-width="0.7"/><rect x="184.22" y="386.9" width="3.79" height="0.8" fill="#55a3d0" stroke="#2f6f96" stroke-width="0.7"/><rect x="188.01" y="386.9" width="3.79" height="0.8" fill="#55a3d0" stroke="#2f6f96" stroke-width="0.7"/><rect x="191.80" y="386.9" width="3.79" height="0.8" fill="#55a3d0" stroke="#2f6f96" stroke-width="0.7"/><rect x="195.59" y="386.9" width="3.79" height="2.2" fill="#55a3d0" stroke="#2f6f96" stroke-width="0.7"/><rect x="199.38" y="386.9" width="3.79" height="1.8" fill="#55a3d0" stroke="#2f6f96" stroke-width="0.7"/><rect x="203.17" y="386.9" width="3.79" height="0.8" fill="#55a3d0" stroke="#2f6f96" stroke-width="0.7"/><rect x="206.96" y="386.9" width="3.79" height="0.8" fill="#55a3d0" stroke="#2f6f96" stroke-width="0.7"/><rect x="210.75" y="386.9" width="3.79" height="0.8" fill="#55a3d0" stroke="#2f6f96" stroke-width="0.7"/><rect x="214.54" y="386.9" width="3.79" height="0.8" fill="#55a3d0" stroke="#2f6f96" stroke-width="0.7"/><rect x="218.33" y="386.9" width="3.79" height="0.8" fill="#55a3d0" stroke="#2f6f96" stroke-width="0.7"/><rect x="222.12" y="386.9" width="3.79" height="0.8" fill="#55a3d0" stroke="#2f6f96" stroke-width="0.7"/><rect x="225.91" y="386.7" width="3.79" height="0.8" fill="#55a3d0" stroke="#2f6f96" stroke-width="0.7"/><rect x="229.70" y="386.9" width="3.79" height="0.8" fill="#55a3d0" stroke="#2f6f96" stroke-width="0.7"/><rect x="233.49" y="386.9" width="3.79" height="0.8" fill="#55a3d0" stroke="#2f6f96" stroke-width="0.7"/><rect x="237.28" y="386.7" width="3.79" height="0.8" fill="#55a3d0" stroke="#2f6f96" stroke-width="0.7"/><rect x="241.07" y="386.9" width="3.79" height="1.0" fill="#55a3d0" stroke="#2f6f96" stroke-width="0.7"/><rect x="244.86" y="386.9" width="3.79" height="2.4" fill="#55a3d0" stroke="#2f6f96" stroke-width="0.7"/><rect x="248.65" y="386.9" width="3.79" height="3.1" fill="#55a3d0" stroke="#2f6f96" stroke-width="0.7"/><rect x="252.44" y="386.9" width="3.79" height="5.0" fill="#55a3d0" stroke="#2f6f96" stroke-width="0.7"/><rect x="256.23" y="386.9" width="3.79" height="5.8" fill="#55a3d0" stroke="#2f6f96" stroke-width="0.7"/><rect x="260.02" y="386.9" width="3.79" height="5.1" fill="#55a3d0" stroke="#2f6f96" stroke-width="0.7"/><rect x="263.81" y="386.9" width="3.79" height="3.7" fill="#55a3d0" stroke="#2f6f96" stroke-width="0.7"/><rect x="267.60" y="386.9" width="3.79" height="2.0" fill="#55a3d0" stroke="#2f6f96" stroke-width="0.7"/><rect x="271.39" y="386.7" width="3.79" height="0.8" fill="#55a3d0" stroke="#2f6f96" stroke-width="0.7"/><rect x="275.18" y="385.8" width="3.79" height="1.1" fill="#55a3d0" stroke="#2f6f96" stroke-width="0.7"/><rect x="278.97" y="385.3" width="3.79" height="1.6" fill="#55a3d0" stroke="#2f6f96" stroke-width="0.7"/><rect x="282.76" y="386.7" width="3.79" height="0.8" fill="#55a3d0" stroke="#2f6f96" stroke-width="0.7"/><rect x="286.55" y="386.9" width="3.79" height="1.8" fill="#55a3d0" stroke="#2f6f96" stroke-width="0.7"/><rect x="290.34" y="386.9" width="3.79" height="0.8" fill="#55a3d0" stroke="#2f6f96" stroke-width="0.7"/><rect x="294.13" y="386.9" width="3.79" height="1.6" fill="#55a3d0" stroke="#2f6f96" stroke-width="0.7"/><rect x="297.92" y="386.9" width="3.79" height="0.8" fill="#55a3d0" stroke="#2f6f96" stroke-width="0.7"/><rect x="301.71" y="386.9" width="3.79" height="0.8" fill="#55a3d0" stroke="#2f6f96" stroke-width="0.7"/><rect x="305.50" y="386.9" width="3.79" height="0.9" fill="#55a3d0" stroke="#2f6f96" stroke-width="0.7"/><rect x="309.29" y="386.9" width="3.79" height="1.9" fill="#55a3d0" stroke="#2f6f96" stroke-width="0.7"/><rect x="313.08" y="386.9" width="3.79" height="6.2" fill="#55a3d0" stroke="#2f6f96" stroke-width="0.7"/><rect x="316.87" y="386.9" width="3.79" height="8.4" fill="#55a3d0" stroke="#2f6f96" stroke-width="0.7"/><rect x="320.66" y="386.9" width="3.79" height="8.6" fill="#55a3d0" stroke="#2f6f96" stroke-width="0.7"/><rect x="324.45" y="386.9" width="3.79" height="9.5" fill="#55a3d0" stroke="#2f6f96" stroke-width="0.7"/><rect x="328.24" y="386.9" width="3.79" height="10.8" fill="#55a3d0" stroke="#2f6f96" stroke-width="0.7"/><rect x="332.03" y="386.9" width="3.79" height="10.6" fill="#55a3d0" stroke="#2f6f96" stroke-width="0.7"/><rect x="335.82" y="386.9" width="3.79" height="10.8" fill="#55a3d0" stroke="#2f6f96" stroke-width="0.7"/><rect x="339.61" y="386.9" width="3.79" height="12.2" fill="#55a3d0" stroke="#2f6f96" stroke-width="0.7"/><rect x="343.40" y="386.9" width="3.79" height="8.9" fill="#55a3d0" stroke="#2f6f96" stroke-width="0.7"/><rect x="347.19" y="386.9" width="3.79" height="5.3" fill="#55a3d0" stroke="#2f6f96" stroke-width="0.7"/><rect x="350.98" y="386.9" width="3.79" height="2.7" fill="#55a3d0" stroke="#2f6f96" stroke-width="0.7"/><rect x="354.77" y="386.9" width="3.79" height="1.8" fill="#55a3d0" stroke="#2f6f96" stroke-width="0.7"/><rect x="358.56" y="386.9" width="3.79" height="2.5" fill="#55a3d0" stroke="#2f6f96" stroke-width="0.7"/><rect x="362.35" y="386.9" width="3.79" height="4.4" fill="#55a3d0" stroke="#2f6f96" stroke-width="0.7"/><rect x="366.14" y="386.9" width="3.79" height="7.3" fill="#55a3d0" stroke="#2f6f96" stroke-width="0.7"/><rect x="369.93" y="386.9" width="3.79" height="8.9" fill="#55a3d0" stroke="#2f6f96" stroke-width="0.7"/><rect x="373.72" y="386.9" width="3.79" height="10.7" fill="#55a3d0" stroke="#2f6f96" stroke-width="0.7"/><rect x="377.51" y="386.9" width="3.79" height="12.9" fill="#55a3d0" stroke="#2f6f96" stroke-width="0.7"/><rect x="381.30" y="386.9" width="3.79" height="10.0" fill="#55a3d0" stroke="#2f6f96" stroke-width="0.7"/><rect x="385.09" y="386.9" width="3.79" height="8.2" fill="#55a3d0" stroke="#2f6f96" stroke-width="0.7"/><rect x="388.88" y="386.9" width="3.79" height="9.3" fill="#55a3d0" stroke="#2f6f96" stroke-width="0.7"/><rect x="392.67" y="386.9" width="3.79" height="12.5" fill="#55a3d0" stroke="#2f6f96" stroke-width="0.7"/><rect x="396.46" y="386.9" width="3.79" height="10.4" fill="#55a3d0" stroke="#2f6f96" stroke-width="0.7"/><rect x="400.25" y="386.9" width="3.79" height="9.6" fill="#55a3d0" stroke="#2f6f96" stroke-width="0.7"/><rect x="404.04" y="386.9" width="3.79" height="7.3" fill="#55a3d0" stroke="#2f6f96" stroke-width="0.7"/><rect x="407.83" y="386.9" width="3.79" height="5.7" fill="#55a3d0" stroke="#2f6f96" stroke-width="0.7"/><rect x="411.62" y="386.9" width="3.79" height="2.8" fill="#55a3d0" stroke="#2f6f96" stroke-width="0.7"/><rect x="415.41" y="385.1" width="3.79" height="1.8" fill="#55a3d0" stroke="#2f6f96" stroke-width="0.7"/><rect x="419.20" y="381.9" width="3.79" height="5.0" fill="#55a3d0" stroke="#2f6f96" stroke-width="0.7"/><rect x="422.99" y="378.0" width="3.79" height="8.9" fill="#55a3d0" stroke="#2f6f96" stroke-width="0.7"/><rect x="426.78" y="376.6" width="3.79" height="10.3" fill="#55a3d0" stroke="#2f6f96" stroke-width="0.7"/><rect x="430.57" y="378.3" width="3.79" height="8.6" fill="#55a3d0" stroke="#2f6f96" stroke-width="0.7"/><rect x="434.36" y="381.5" width="3.79" height="5.4" fill="#55a3d0" stroke="#2f6f96" stroke-width="0.7"/><rect x="438.15" y="381.6" width="3.79" height="5.3" fill="#55a3d0" stroke="#2f6f96" stroke-width="0.7"/><rect x="441.94" y="384.5" width="3.79" height="2.4" fill="#55a3d0" stroke="#2f6f96" stroke-width="0.7"/><rect x="445.73" y="386.9" width="3.79" height="1.9" fill="#55a3d0" stroke="#2f6f96" stroke-width="0.7"/><rect x="449.52" y="386.9" width="3.79" height="5.7" fill="#55a3d0" stroke="#2f6f96" stroke-width="0.7"/><rect x="453.31" y="386.9" width="3.79" height="6.9" fill="#55a3d0" stroke="#2f6f96" stroke-width="0.7"/><rect x="457.10" y="386.9" width="3.79" height="7.9" fill="#55a3d0" stroke="#2f6f96" stroke-width="0.7"/><rect x="460.89" y="386.9" width="3.79" height="5.6" fill="#55a3d0" stroke="#2f6f96" stroke-width="0.7"/><rect x="464.68" y="386.9" width="3.79" height="1.6" fill="#55a3d0" stroke="#2f6f96" stroke-width="0.7"/><rect x="468.47" y="386.9" width="3.79" height="0.8" fill="#55a3d0" stroke="#2f6f96" stroke-width="0.7"/><rect x="472.26" y="383.5" width="3.79" height="3.4" fill="#55a3d0" stroke="#2f6f96" stroke-width="0.7"/><rect x="476.05" y="381.3" width="3.79" height="5.6" fill="#55a3d0" stroke="#2f6f96" stroke-width="0.7"/><rect x="479.84" y="379.2" width="3.79" height="7.7" fill="#55a3d0" stroke="#2f6f96" stroke-width="0.7"/><rect x="483.63" y="377.5" width="3.79" height="9.4" fill="#55a3d0" stroke="#2f6f96" stroke-width="0.7"/><rect x="487.42" y="378.6" width="3.79" height="8.3" fill="#55a3d0" stroke="#2f6f96" stroke-width="0.7"/><rect x="491.21" y="380.8" width="3.79" height="6.1" fill="#55a3d0" stroke="#2f6f96" stroke-width="0.7"/><rect x="495.00" y="382.4" width="3.79" height="4.5" fill="#55a3d0" stroke="#2f6f96" stroke-width="0.7"/><rect x="498.79" y="383.6" width="3.79" height="3.3" fill="#55a3d0" stroke="#2f6f96" stroke-width="0.7"/><rect x="502.58" y="383.6" width="3.79" height="3.3" fill="#55a3d0" stroke="#2f6f96" stroke-width="0.7"/><rect x="506.37" y="382.3" width="3.79" height="4.6" fill="#55a3d0" stroke="#2f6f96" stroke-width="0.7"/><rect x="510.16" y="381.9" width="3.79" height="5.0" fill="#55a3d0" stroke="#2f6f96" stroke-width="0.7"/><rect x="513.95" y="380.6" width="3.79" height="6.3" fill="#55a3d0" stroke="#2f6f96" stroke-width="0.7"/><rect x="517.74" y="379.0" width="3.79" height="7.9" fill="#55a3d0" stroke="#2f6f96" stroke-width="0.7"/><rect x="521.53" y="379.1" width="3.79" height="7.8" fill="#55a3d0" stroke="#2f6f96" stroke-width="0.7"/><rect x="525.32" y="379.6" width="3.79" height="7.3" fill="#55a3d0" stroke="#2f6f96" stroke-width="0.7"/><rect x="529.11" y="381.8" width="3.79" height="5.1" fill="#55a3d0" stroke="#2f6f96" stroke-width="0.7"/><rect x="532.90" y="382.4" width="3.79" height="4.5" fill="#55a3d0" stroke="#2f6f96" stroke-width="0.7"/><rect x="536.69" y="385.6" width="3.79" height="1.3" fill="#55a3d0" stroke="#2f6f96" stroke-width="0.7"/><rect x="540.48" y="386.9" width="3.79" height="0.8" fill="#55a3d0" stroke="#2f6f96" stroke-width="0.7"/><rect x="544.27" y="386.9" width="3.79" height="0.8" fill="#55a3d0" stroke="#2f6f96" stroke-width="0.7"/><rect x="548.06" y="385.1" width="3.79" height="1.8" fill="#55a3d0" stroke="#2f6f96" stroke-width="0.7"/><rect x="551.85" y="384.1" width="3.79" height="2.8" fill="#55a3d0" stroke="#2f6f96" stroke-width="0.7"/><rect x="555.64" y="383.1" width="3.79" height="3.8" fill="#55a3d0" stroke="#2f6f96" stroke-width="0.7"/><rect x="559.43" y="382.9" width="3.79" height="4.0" fill="#55a3d0" stroke="#2f6f96" stroke-width="0.7"/><rect x="563.22" y="382.4" width="3.79" height="4.5" fill="#55a3d0" stroke="#2f6f96" stroke-width="0.7"/><rect x="567.01" y="382.9" width="3.79" height="4.0" fill="#55a3d0" stroke="#2f6f96" stroke-width="0.7"/><rect x="570.80" y="383.6" width="3.79" height="3.3" fill="#55a3d0" stroke="#2f6f96" stroke-width="0.7"/><rect x="574.59" y="383.3" width="3.79" height="3.6" fill="#55a3d0" stroke="#2f6f96" stroke-width="0.7"/><rect x="578.38" y="383.3" width="3.79" height="3.6" fill="#55a3d0" stroke="#2f6f96" stroke-width="0.7"/><rect x="582.17" y="382.4" width="3.79" height="4.5" fill="#55a3d0" stroke="#2f6f96" stroke-width="0.7"/><rect x="585.96" y="382.0" width="3.79" height="4.9" fill="#55a3d0" stroke="#2f6f96" stroke-width="0.7"/><rect x="589.75" y="380.5" width="3.79" height="6.4" fill="#55a3d0" stroke="#2f6f96" stroke-width="0.7"/></g>
<polyline clip-path="url(#cd)" points="0.8,394.4 4.6,392.6 8.4,390.7 12.2,388.6 16.0,386.4 19.8,384.3 23.5,382.1 27.3,379.7 31.1,377.3 34.9,374.9 38.7,372.4 42.5,370.1 46.3,368.5 50.1,367.5 53.9,367.1 57.7,366.9 61.5,366.4 65.2,365.9 69.0,365.4 72.8,365.8 76.6,365.8 80.4,365.4 84.2,365.0 88.0,364.3 91.8,363.3 95.6,362.3 99.3,361.4 103.1,360.5 106.9,359.7 110.7,358.7 114.5,358.0 118.3,357.2 122.1,357.0 125.9,356.6 129.7,356.0 133.5,355.5 137.2,355.5 141.0,355.8 144.8,355.9 148.6,356.1 152.4,356.2 156.2,356.2 160.0,355.8 163.8,355.0 167.6,354.1 171.4,353.3 175.2,352.5 178.9,352.0 182.7,351.8 186.5,351.8 190.3,351.9 194.1,352.0 197.9,352.6 201.7,353.0 205.5,353.2 209.3,353.3 213.0,353.4 216.8,353.5 220.6,353.5 224.4,353.6 228.2,353.5 232.0,353.6 235.8,353.6 239.6,353.6 243.4,353.8 247.2,354.4 250.9,355.2 254.7,356.4 258.5,357.9 262.3,359.1 266.1,360.0 269.9,360.5 273.7,360.5 277.5,360.2 281.3,359.8 285.1,359.8 288.9,360.2 292.6,360.4 296.4,360.8 300.2,361.0 304.0,361.0 307.8,361.2 311.6,361.7 315.4,363.2 319.2,365.3 323.0,367.5 326.8,369.9 330.5,372.5 334.3,375.2 338.1,377.9 341.9,380.9 345.7,383.2 349.5,384.5 353.3,385.2 357.1,385.6 360.9,386.2 364.7,387.3 368.4,389.2 372.2,391.4 376.0,394.1 379.8,397.3 383.6,399.8 387.4,401.8 391.2,404.1 395.0,407.3 398.8,409.9 402.6,412.3 406.3,414.1 410.1,415.5 413.9,416.2 417.7,415.8 421.5,414.5 425.3,412.3 429.1,409.7 432.9,407.6 436.7,406.2 440.5,404.9 444.2,404.3 448.0,404.8 451.8,406.2 455.6,407.9 459.4,409.9 463.2,411.3 467.0,411.7 470.8,411.8 474.6,411.0 478.4,409.6 482.1,407.7 485.9,405.3 489.7,403.3 493.5,401.7 497.3,400.6 501.1,399.8 504.9,398.9 508.7,397.8 512.5,396.5 516.2,395.0 520.0,393.0 523.8,391.0 527.6,389.2 531.4,388.0 535.2,386.8 539.0,386.5 542.8,386.5 546.6,386.5 550.4,386.1 554.1,385.4 557.9,384.4 561.7,383.4 565.5,382.3 569.3,381.3 573.1,380.4 576.9,379.6 580.7,378.6 584.5,377.5 588.3,376.3 592.1,374.7" fill="none" stroke="#e8423f" stroke-width="1.2"/>
<polyline clip-path="url(#cd)" points="0.8,385.9 4.6,385.5 8.4,383.1 12.2,380.3 16.0,377.5 19.8,375.6 23.5,373.3 27.3,370.3 31.1,367.7 34.9,365.5 38.7,362.1 42.5,361.1 46.3,362.1 50.1,363.5 53.9,365.3 57.7,366.1 61.5,364.7 65.2,363.7 69.0,363.6 72.8,367.1 76.6,365.9 80.4,364.0 84.2,363.2 88.0,361.4 91.8,359.3 95.6,358.6 99.3,357.5 103.1,357.2 106.9,356.3 110.7,354.8 114.5,354.9 118.3,354.2 122.1,356.1 125.9,355.0 129.7,353.7 133.5,353.6 137.2,355.4 141.0,356.8 144.8,356.4 148.6,357.0 152.4,356.7 156.2,356.1 160.0,354.0 163.8,351.8 167.6,350.6 171.4,350.1 175.2,349.2 178.9,349.9 182.7,351.2 186.5,351.8 190.3,352.2 194.1,352.7 197.9,354.8 201.7,354.8 205.5,354.0 209.3,353.4 213.0,354.1 216.8,353.6 220.6,353.8 224.4,353.6 228.2,353.4 232.0,354.0 235.8,353.7 239.6,353.4 243.4,354.8 247.2,356.8 250.9,358.2 254.7,361.4 258.5,363.6 262.3,364.2 266.1,363.7 269.9,362.5 273.7,360.3 277.5,359.1 281.3,358.2 285.1,359.6 288.9,362.0 292.6,361.2 296.4,362.4 300.2,361.8 304.0,360.9 307.8,362.1 311.6,363.5 315.4,369.5 319.2,373.7 323.0,376.0 326.8,379.4 330.5,383.3 334.3,385.8 338.1,388.7 341.9,393.1 345.7,392.0 349.5,389.8 353.3,387.9 357.1,387.4 360.9,388.7 364.7,391.8 368.4,396.5 372.2,400.2 376.0,404.7 379.8,410.2 383.6,409.7 387.4,410.0 391.2,413.5 395.0,419.8 398.8,420.3 402.6,421.8 406.3,421.3 410.1,421.2 413.9,419.0 417.7,414.0 421.5,409.5 425.3,403.4 429.1,399.4 432.9,399.0 436.7,400.8 440.5,399.7 444.2,401.9 448.0,406.6 451.8,411.9 455.6,414.9 459.4,417.9 463.2,416.9 467.0,413.3 470.8,412.4 474.6,407.5 478.4,404.0 482.1,400.0 485.9,395.9 489.7,395.0 493.5,395.6 497.3,396.1 501.1,396.4 504.9,395.7 508.7,393.2 512.5,391.6 516.2,388.6 520.0,385.1 523.8,383.2 527.6,382.0 531.4,382.9 535.2,382.4 539.0,385.2 542.8,386.5 546.6,386.5 550.4,384.2 554.1,382.5 557.9,380.7 561.7,379.4 565.5,377.8 569.3,377.3 573.1,377.1 576.9,376.0 580.7,375.0 584.5,373.0 588.3,371.4 592.1,368.3" fill="none" stroke="#1e1e1e" stroke-width="1.9" stroke-linejoin="round"/>
<rect x="1" y="343.5" width="228" height="10" fill="#fff"/>
<rect x="3" y="348.3" width="8" height="2" fill="#111"/>
<text x="14" y="352.6" font-size="9.8" fill="#333" text-anchor="start" font-weight="normal" textLength="122.5" lengthAdjust="spacingAndGlyphs" stroke="#333" stroke-width="0.3">MACD(12,26,9) 86.203</text>
<text x="136.3" y="352.6" font-size="9.8" fill="#e03a3a" text-anchor="start" font-weight="normal" textLength="46.5" lengthAdjust="spacingAndGlyphs" stroke="#e03a3a" stroke-width="0.3">, 56.628</text>
<text x="183.2" y="352.6" font-size="9.8" fill="#3a9ad0" text-anchor="start" font-weight="normal" textLength="45" lengthAdjust="spacingAndGlyphs" stroke="#3a9ad0" stroke-width="0.3">, 29.575</text>
<line x1="598" y1="354.6" x2="601" y2="354.6" stroke="#999" stroke-width="1"/>
<text x="620" y="357.7" font-size="8.8" fill="#333" text-anchor="end" font-weight="normal" stroke="#333" stroke-width="0.3">150</text>
<line x1="598" y1="365.3" x2="601" y2="365.3" stroke="#999" stroke-width="1"/>
<text x="620" y="368.4" font-size="8.8" fill="#333" text-anchor="end" font-weight="normal" stroke="#333" stroke-width="0.3">100</text>
<line x1="598" y1="376.1" x2="601" y2="376.1" stroke="#999" stroke-width="1"/>
<text x="620" y="379.2" font-size="8.8" fill="#333" text-anchor="end" font-weight="normal" stroke="#333" stroke-width="0.3">50</text>
<line x1="598" y1="386.9" x2="601" y2="386.9" stroke="#999" stroke-width="1"/>
<text x="620" y="390.0" font-size="8.8" fill="#333" text-anchor="end" font-weight="normal" stroke="#333" stroke-width="0.3">0</text>
<line x1="598" y1="397.7" x2="601" y2="397.7" stroke="#999" stroke-width="1"/>
<text x="620" y="400.8" font-size="8.8" fill="#333" text-anchor="end" font-weight="normal" stroke="#333" stroke-width="0.3">-50</text>
<line x1="598" y1="408.4" x2="601" y2="408.4" stroke="#999" stroke-width="1"/>
<text x="620" y="411.6" font-size="8.8" fill="#333" text-anchor="end" font-weight="normal" stroke="#333" stroke-width="0.3">-100</text>
<line x1="598" y1="419.2" x2="601" y2="419.2" stroke="#999" stroke-width="1"/>
<text x="620" y="422.3" font-size="8.8" fill="#333" text-anchor="end" font-weight="normal" stroke="#333" stroke-width="0.3">-150</text>
<path d="M595.0,367.35 L599.2,363.7 L633,363.7 L633,371.0 L599.2,371.0 Z" fill="#fff" stroke="#333" stroke-width="1.0"/><text x="599.2" y="370.6" font-size="9.0" fill="#222" text-anchor="start" font-weight="normal" textLength="32.5" lengthAdjust="spacingAndGlyphs" stroke="#222" stroke-width="0.2">86.203</text>
<path d="M595.0,374.70 L599.2,371.0 L633,371.0 L633,378.4 L599.2,378.4 Z" fill="#fff" stroke="#e8423f" stroke-width="1.0"/><text x="599.2" y="377.9" font-size="9.0" fill="#222" text-anchor="start" font-weight="normal" textLength="32.5" lengthAdjust="spacingAndGlyphs" stroke="#222" stroke-width="0.2">56.628</text>
<path d="M595.0,382.00 L599.2,378.4 L633,378.4 L633,385.6 L599.2,385.6 Z" fill="#fff" stroke="#4a9ccc" stroke-width="1.0"/><text x="599.2" y="385.2" font-size="9.0" fill="#222" text-anchor="start" font-weight="normal" textLength="32.5" lengthAdjust="spacingAndGlyphs" stroke="#222" stroke-width="0.2">29.575</text>
</svg></body></html>
